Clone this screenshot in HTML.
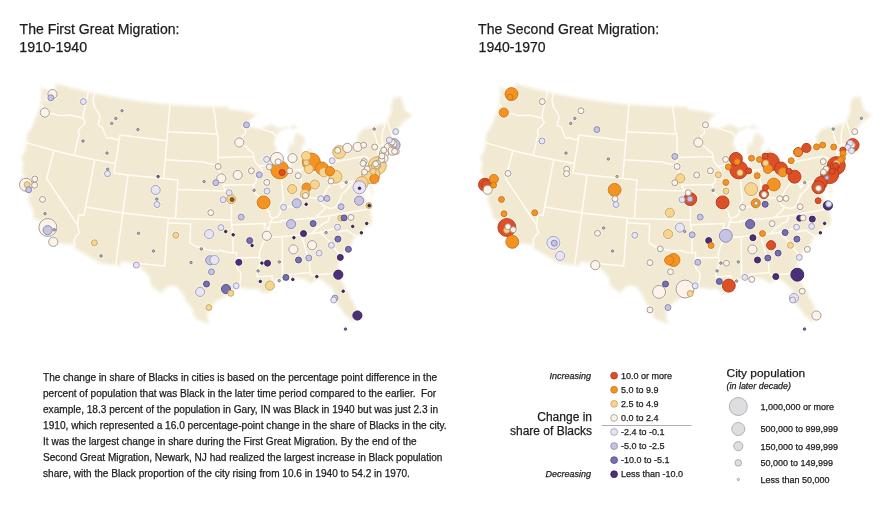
<!DOCTYPE html>
<html><head><meta charset="utf-8"><style>
html,body{margin:0;padding:0;background:#fff;}
body{width:887px;height:512px;overflow:hidden;position:relative;}
svg{position:absolute;left:0;top:0;filter:blur(0.4px);}
text{font-family:"Liberation Sans",sans-serif;fill:#1c1c1c;}
.t{stroke:#1c1c1c;stroke-width:0.25px;}
</style></head><body>
<svg width="887" height="512" viewBox="0 0 887 512">
<defs><filter id="glow" x="-5%" y="-5%" width="110%" height="110%"><feGaussianBlur stdDeviation="1.7"/></filter></defs>
<g font-size="14.2" class="t">
<text x="19.6" y="33.8" textLength="159.8" lengthAdjust="spacingAndGlyphs">The First Great Migration:</text>
<text x="19.3" y="52.2">1910-1940</text>
<text x="478.1" y="33.8" textLength="181.0" lengthAdjust="spacingAndGlyphs">The Second Great Migration:</text>
<text x="478.6" y="52.2" textLength="67.0" lengthAdjust="spacingAndGlyphs">1940-1970</text>
</g>
<g transform="translate(0,0)">
<g transform="translate(0.5,0.8)">
<path d="M39.5,82.5 L43.4,85.7 L46.7,87.2 L50.7,88.6 L51.0,91.1 L48.4,94.8 L47.3,97.5 L50.0,96.5 L51.9,93.7 L53.6,90.9 L52.9,87.3 L54.1,83.2 L53.2,80.5 L70.1,85.1 L88.5,89.5 L107.2,93.4 L125.9,96.7 L144.7,99.4 L163.6,101.5 L182.6,103.0 L201.6,103.9 L212.8,104.2 L226.0,104.2 L225.9,100.6 L228.0,101.4 L229.0,105.6 L229.5,107.0 L234.6,107.4 L239.7,108.2 L242.3,107.4 L244.2,109.0 L248.8,109.7 L254.0,111.8 L259.1,111.5 L262.1,112.3 L268.7,109.9 L278.5,111.9 L292.4,119.0 L295.8,123.4 L301.4,127.5 L305.4,127.9 L311.3,135.8 L314.5,148.9 L314.5,154.7 L314.2,158.6 L311.7,161.4 L310.9,164.4 L315.0,166.8 L322.4,164.2 L330.8,159.0 L335.3,155.8 L338.7,151.7 L337.2,148.6 L340.3,144.6 L350.4,142.7 L353.9,139.0 L354.0,136.1 L356.5,133.1 L359.4,129.0 L362.6,126.3 L371.8,124.2 L383.9,121.1 L385.9,117.6 L387.2,115.3 L389.2,111.3 L388.9,107.9 L389.3,102.9 L390.4,99.6 L392.2,94.5 L394.9,95.3 L397.9,93.9 L402.0,95.2 L405.3,105.6 L406.0,108.4 L410.5,111.5 L413.8,114.2 L412.2,117.0 L408.1,119.7 L405.1,121.6 L402.9,123.8 L401.0,126.8 L397.4,129.3 L395.6,131.8 L394.7,135.1 L393.9,137.8 L393.7,139.8 L395.7,141.3 L394.0,143.2 L394.0,145.2 L396.7,146.5 L397.9,148.1 L399.0,149.3 L401.4,148.9 L402.1,147.5 L400.0,146.0 L402.0,146.5 L402.7,149.0 L402.6,150.3 L398.1,151.6 L395.8,152.5 L394.5,153.2 L393.2,152.4 L392.9,154.0 L390.7,155.5 L387.4,156.9 L383.3,158.1 L380.8,160.0 L378.8,162.0 L377.9,163.5 L376.9,166.2 L375.7,167.6 L377.5,167.7 L378.1,171.0 L378.4,174.4 L377.4,178.1 L375.5,181.5 L374.1,183.5 L373.6,181.5 L371.5,180.4 L368.7,179.6 L370.3,181.7 L371.5,183.9 L373.5,185.1 L374.4,188.2 L374.0,191.7 L373.3,193.9 L372.2,197.6 L370.4,202.2 L369.4,198.7 L369.7,194.7 L367.8,191.1 L365.8,188.6 L365.0,184.8 L365.2,180.8 L364.6,179.5 L362.9,182.3 L363.2,185.2 L363.6,189.0 L365.5,192.6 L366.8,195.3 L367.0,198.2 L367.0,201.6 L368.2,203.8 L370.6,204.0 L372.3,207.4 L374.1,210.5 L376.3,213.9 L377.5,219.1 L375.0,221.1 L370.5,226.0 L366.7,227.2 L363.1,230.9 L361.8,234.6 L361.3,236.1 L357.4,236.4 L354.6,238.9 L353.3,242.5 L351.9,246.2 L348.4,249.2 L344.8,252.3 L341.9,256.6 L340.1,260.8 L339.6,265.7 L339.2,270.6 L340.2,274.3 L342.3,279.8 L345.1,284.2 L347.3,287.7 L349.9,290.7 L350.6,294.9 L353.5,299.2 L355.9,303.6 L357.1,308.2 L357.5,313.0 L357.1,315.9 L356.3,318.9 L355.7,320.9 L352.0,322.3 L349.7,321.9 L347.8,318.4 L344.0,316.6 L342.3,313.5 L340.0,310.0 L337.3,306.5 L334.3,303.2 L332.5,300.0 L331.5,295.9 L331.7,291.0 L330.5,288.3 L327.7,286.8 L324.3,283.4 L320.2,280.5 L317.6,279.6 L315.3,281.1 L311.5,284.0 L308.6,284.3 L306.2,281.7 L301.9,279.8 L297.6,278.8 L292.4,279.7 L289.6,281.0 L286.3,281.2 L284.9,279.9 L281.3,280.7 L276.4,280.8 L274.4,281.7 L272.4,283.7 L274.9,284.0 L275.5,285.9 L274.1,289.4 L276.7,291.1 L277.6,292.9 L276.5,294.0 L273.4,292.3 L271.3,291.4 L269.3,293.0 L265.6,294.2 L262.2,293.9 L259.6,292.1 L257.0,289.8 L252.1,290.1 L247.1,289.8 L242.9,288.5 L238.3,289.0 L234.6,290.6 L230.9,292.5 L228.0,295.4 L223.9,298.3 L220.5,299.7 L216.3,302.1 L212.5,305.4 L209.9,308.2 L208.6,312.9 L208.9,317.7 L210.1,322.4 L210.5,324.8 L207.9,325.3 L204.9,323.8 L201.5,322.3 L196.4,320.3 L193.4,318.3 L191.0,314.4 L190.7,309.6 L187.9,305.7 L184.3,301.8 L182.8,297.9 L180.5,293.9 L178.9,291.5 L175.8,287.5 L171.7,286.8 L167.5,287.4 L164.8,290.1 L162.1,293.7 L160.4,293.9 L157.2,291.9 L155.2,290.3 L150.9,287.6 L148.7,284.0 L147.9,279.1 L147.0,276.2 L142.9,271.9 L139.1,268.6 L135.7,264.6 L122.2,263.0 L121.6,267.3 L98.6,263.9 L71.0,247.5 L72.1,245.6 L52.9,243.4 L52.7,241.7 L52.5,238.7 L50.4,233.7 L48.4,231.8 L45.7,229.7 L45.6,227.0 L43.3,226.3 L40.4,224.9 L38.1,221.3 L33.7,219.5 L31.6,219.2 L31.4,214.6 L31.2,212.1 L30.7,209.5 L28.5,205.9 L27.8,202.7 L25.6,199.1 L26.1,196.2 L27.7,194.7 L26.3,192.6 L24.4,189.7 L24.4,186.7 L25.0,184.1 L23.5,181.9 L22.2,181.1 L22.6,178.2 L20.9,173.6 L19.6,170.7 L20.4,166.4 L21.1,162.7 L20.2,159.4 L19.1,155.6 L21.2,153.1 L23.2,149.2 L24.1,143.9 L24.8,141.6 L24.5,137.5 L24.9,133.2 L26.9,130.2 L29.7,126.1 L32.0,120.8 L33.7,116.3 L36.3,110.1 L37.8,105.6 L37.9,103.1 L38.7,98.9 L39.2,95.0 L39.3,91.1 L38.7,87.0 L39.5,82.5Z M377.2,166.5 L378.5,164.0 L380.6,162.0 L384.0,160.9 L387.2,158.9 L388.4,157.9 L388.9,160.0 L391.0,158.4 L389.0,160.4 L386.5,162.1 L382.7,164.5 L380.0,165.6 L377.6,166.5Z" fill="#F2E9D2"/>
<path d="M285.3,170.2 L299.4,168.7 L309.1,168.1 L311.1,164.9 L311.7,161.4 L314.2,158.6 L314.5,154.7 L313.3,140.3 L301.4,127.5 L295.8,123.4 L292.4,119.0 L278.5,111.9 L268.7,109.9 L262.7,117.0 L257.4,125.9 L263.6,129.3 L269.0,130.8 L273.1,132.4 L275.4,135.6 L277.0,138.8 L280.1,135.2 L283.2,139.2 L284.5,167.9Z" fill="#F3EBD8"/>
<path d="M295.8,123.4 L293.0,121.4 L289.0,124.7 L284.9,123.2 L281.8,125.7 L277.1,124.9 L274.3,122.3 L271.6,122.0 L274.0,119.0 L273.4,116.5 L270.1,119.3 L268.3,121.8 L264.5,124.0 L258.7,125.8 L254.7,125.6 L253.3,123.3 L249.5,125.2 L246.2,125.3 L249.3,122.5 L254.3,117.5 L259.9,113.9 L263.0,112.2 L264.7,108.3 L270.1,104.1 L275.1,102.3 L281.7,104.9 L291.3,109.6 L293.7,114.1 L294.9,118.7 L295.8,123.4Z M295.6,129.7 L291.6,129.7 L288.2,129.1 L284.3,130.4 L281.7,131.2 L280.1,132.3 L276.9,136.9 L276.4,139.8 L274.8,144.3 L277.3,141.7 L279.6,137.6 L279.2,140.5 L278.2,144.4 L277.4,150.3 L276.4,155.2 L276.7,159.0 L277.8,163.7 L279.3,168.4 L280.2,170.8 L282.1,171.8 L285.5,170.7 L287.3,167.2 L288.6,162.7 L288.5,157.9 L286.3,153.3 L285.4,148.6 L286.8,145.1 L287.6,139.7 L289.8,138.0 L291.1,140.3 L291.8,136.4 L293.7,133.3 L294.1,130.8 L295.6,129.7Z M295.6,129.7 L300.7,127.8 L303.2,126.3 L309.6,124.5 L316.3,124.4 L321.2,125.6 L324.3,128.0 L327.9,133.2 L328.0,138.0 L320.2,136.4 L316.9,132.6 L318.0,139.6 L317.9,144.5 L319.0,151.1 L314.5,154.7 L312.8,149.1 L311.2,145.0 L307.2,146.0 L303.6,150.4 L302.8,147.1 L306.5,143.2 L305.9,136.5 L302.4,133.2 L297.7,130.4 L295.6,129.7Z M309.0,167.8 L312.4,169.1 L314.7,169.7 L318.2,169.7 L321.6,168.2 L324.7,165.3 L328.6,162.7 L331.8,160.3 L336.0,156.1 L338.8,151.9 L335.5,152.8 L330.7,154.1 L328.3,156.5 L322.8,157.3 L319.1,160.8 L315.2,163.8 L311.1,164.9 L309.0,167.8Z M337.2,148.6 L340.8,147.4 L346.9,146.1 L351.4,143.9 L354.0,142.9 L355.4,139.7 L354.2,137.0 L352.0,136.5 L349.0,139.0 L345.1,140.3 L339.9,142.3 L334.1,145.2 L332.0,149.0 L337.2,148.6Z M313.7,158.2 L312.1,159.4 L312.1,161.3 L314.5,161.0 L313.7,158.2Z M372.7,208.8 L374.3,211.4 L375.8,214.0 L377.3,219.1 L375.4,221.0 L373.8,222.8 L373.1,221.5 L373.3,218.5 L373.0,215.6 L372.1,213.3 L372.7,212.2 L372.2,209.9Z M367.9,204.4 L370.4,202.4 L369.8,197.6 L368.8,193.9 L366.9,190.3 L365.2,185.8 L364.4,182.0 L364.9,179.4 L362.7,181.4 L362.8,185.3 L363.2,189.1 L364.7,192.7 L366.2,196.4 L367.0,200.1 L366.9,203.1Z M373.6,184.9 L370.8,180.6 L368.4,178.2 L369.2,180.0 L373.3,181.5 L374.4,183.4Z" fill="#fff" stroke="#fff" stroke-width="1.2"/>
<path d="M39.5,82.5 L43.4,85.7 L46.7,87.2 L50.7,88.6 L51.0,91.1 L48.4,94.8 L47.3,97.5 L50.0,96.5 L51.9,93.7 L53.6,90.9 L52.9,87.3 L54.1,83.2 L53.2,80.5 L70.1,85.1 L88.5,89.5 L107.2,93.4 L125.9,96.7 L144.7,99.4 L163.6,101.5 L182.6,103.0 L201.6,103.9 L212.8,104.2 L226.0,104.2 L225.9,100.6 L228.0,101.4 L229.0,105.6 L229.5,107.0 L234.6,107.4 L239.7,108.2 L242.3,107.4 L244.2,109.0 L248.8,109.7 L254.0,111.8 L259.1,111.5 L262.1,112.3 L268.7,109.9 L278.5,111.9 L292.4,119.0 L295.8,123.4 L301.4,127.5 L305.4,127.9 L311.3,135.8 L314.5,148.9 L314.5,154.7 L314.2,158.6 L311.7,161.4 L310.9,164.4 L315.0,166.8 L322.4,164.2 L330.8,159.0 L335.3,155.8 L338.7,151.7 L337.2,148.6 L340.3,144.6 L350.4,142.7 L353.9,139.0 L354.0,136.1 L356.5,133.1 L359.4,129.0 L362.6,126.3 L371.8,124.2 L383.9,121.1 L385.9,117.6 L387.2,115.3 L389.2,111.3 L388.9,107.9 L389.3,102.9 L390.4,99.6 L392.2,94.5 L394.9,95.3 L397.9,93.9 L402.0,95.2 L405.3,105.6 L406.0,108.4 L410.5,111.5 L413.8,114.2 L412.2,117.0 L408.1,119.7 L405.1,121.6 L402.9,123.8 L401.0,126.8 L397.4,129.3 L395.6,131.8 L394.7,135.1 L393.9,137.8 L393.7,139.8 L395.7,141.3 L394.0,143.2 L394.0,145.2 L396.7,146.5 L397.9,148.1 L399.0,149.3 L401.4,148.9 L402.1,147.5 L400.0,146.0 L402.0,146.5 L402.7,149.0 L402.6,150.3 L398.1,151.6 L395.8,152.5 L394.5,153.2 L393.2,152.4 L392.9,154.0 L390.7,155.5 L387.4,156.9 L383.3,158.1 L380.8,160.0 L378.8,162.0 L377.9,163.5 L376.9,166.2 L375.7,167.6 L377.5,167.7 L378.1,171.0 L378.4,174.4 L377.4,178.1 L375.5,181.5 L374.1,183.5 L373.6,181.5 L371.5,180.4 L368.7,179.6 L370.3,181.7 L371.5,183.9 L373.5,185.1 L374.4,188.2 L374.0,191.7 L373.3,193.9 L372.2,197.6 L370.4,202.2 L369.4,198.7 L369.7,194.7 L367.8,191.1 L365.8,188.6 L365.0,184.8 L365.2,180.8 L364.6,179.5 L362.9,182.3 L363.2,185.2 L363.6,189.0 L365.5,192.6 L366.8,195.3 L367.0,198.2 L367.0,201.6 L368.2,203.8 L370.6,204.0 L372.3,207.4 L374.1,210.5 L376.3,213.9 L377.5,219.1 L375.0,221.1 L370.5,226.0 L366.7,227.2 L363.1,230.9 L361.8,234.6 L361.3,236.1 L357.4,236.4 L354.6,238.9 L353.3,242.5 L351.9,246.2 L348.4,249.2 L344.8,252.3 L341.9,256.6 L340.1,260.8 L339.6,265.7 L339.2,270.6 L340.2,274.3 L342.3,279.8 L345.1,284.2 L347.3,287.7 L349.9,290.7 L350.6,294.9 L353.5,299.2 L355.9,303.6 L357.1,308.2 L357.5,313.0 L357.1,315.9 L356.3,318.9 L355.7,320.9 L352.0,322.3 L349.7,321.9 L347.8,318.4 L344.0,316.6 L342.3,313.5 L340.0,310.0 L337.3,306.5 L334.3,303.2 L332.5,300.0 L331.5,295.9 L331.7,291.0 L330.5,288.3 L327.7,286.8 L324.3,283.4 L320.2,280.5 L317.6,279.6 L315.3,281.1 L311.5,284.0 L308.6,284.3 L306.2,281.7 L301.9,279.8 L297.6,278.8 L292.4,279.7 L289.6,281.0 L286.3,281.2 L284.9,279.9 L281.3,280.7 L276.4,280.8 L274.4,281.7 L272.4,283.7 L274.9,284.0 L275.5,285.9 L274.1,289.4 L276.7,291.1 L277.6,292.9 L276.5,294.0 L273.4,292.3 L271.3,291.4 L269.3,293.0 L265.6,294.2 L262.2,293.9 L259.6,292.1 L257.0,289.8 L252.1,290.1 L247.1,289.8 L242.9,288.5 L238.3,289.0 L234.6,290.6 L230.9,292.5 L228.0,295.4 L223.9,298.3 L220.5,299.7 L216.3,302.1 L212.5,305.4 L209.9,308.2 L208.6,312.9 L208.9,317.7 L210.1,322.4 L210.5,324.8 L207.9,325.3 L204.9,323.8 L201.5,322.3 L196.4,320.3 L193.4,318.3 L191.0,314.4 L190.7,309.6 L187.9,305.7 L184.3,301.8 L182.8,297.9 L180.5,293.9 L178.9,291.5 L175.8,287.5 L171.7,286.8 L167.5,287.4 L164.8,290.1 L162.1,293.7 L160.4,293.9 L157.2,291.9 L155.2,290.3 L150.9,287.6 L148.7,284.0 L147.9,279.1 L147.0,276.2 L142.9,271.9 L139.1,268.6 L135.7,264.6 L122.2,263.0 L121.6,267.3 L98.6,263.9 L71.0,247.5 L72.1,245.6 L52.9,243.4 L52.7,241.7 L52.5,238.7 L50.4,233.7 L48.4,231.8 L45.7,229.7 L45.6,227.0 L43.3,226.3 L40.4,224.9 L38.1,221.3 L33.7,219.5 L31.6,219.2 L31.4,214.6 L31.2,212.1 L30.7,209.5 L28.5,205.9 L27.8,202.7 L25.6,199.1 L26.1,196.2 L27.7,194.7 L26.3,192.6 L24.4,189.7 L24.4,186.7 L25.0,184.1 L23.5,181.9 L22.2,181.1 L22.6,178.2 L20.9,173.6 L19.6,170.7 L20.4,166.4 L21.1,162.7 L20.2,159.4 L19.1,155.6 L21.2,153.1 L23.2,149.2 L24.1,143.9 L24.8,141.6 L24.5,137.5 L24.9,133.2 L26.9,130.2 L29.7,126.1 L32.0,120.8 L33.7,116.3 L36.3,110.1 L37.8,105.6 L37.9,103.1 L38.7,98.9 L39.2,95.0 L39.3,91.1 L38.7,87.0 L39.5,82.5Z M377.2,166.5 L378.5,164.0 L380.6,162.0 L384.0,160.9 L387.2,158.9 L388.4,157.9 L388.9,160.0 L391.0,158.4 L389.0,160.4 L386.5,162.1 L382.7,164.5 L380.0,165.6 L377.6,166.5Z M295.8,123.4 L293.0,121.4 L289.0,124.7 L284.9,123.2 L281.8,125.7 L277.1,124.9 L274.3,122.3 L271.6,122.0 L274.0,119.0 L273.4,116.5 L270.1,119.3 L268.3,121.8 L264.5,124.0 L258.7,125.8 L254.7,125.6 L253.3,123.3 L249.5,125.2 L246.2,125.3 L249.3,122.5 L254.3,117.5 L259.9,113.9 L263.0,112.2 L264.7,108.3 L270.1,104.1 L275.1,102.3 L281.7,104.9 L291.3,109.6 L293.7,114.1 L294.9,118.7 L295.8,123.4Z M295.6,129.7 L291.6,129.7 L288.2,129.1 L284.3,130.4 L281.7,131.2 L280.1,132.3 L276.9,136.9 L276.4,139.8 L274.8,144.3 L277.3,141.7 L279.6,137.6 L279.2,140.5 L278.2,144.4 L277.4,150.3 L276.4,155.2 L276.7,159.0 L277.8,163.7 L279.3,168.4 L280.2,170.8 L282.1,171.8 L285.5,170.7 L287.3,167.2 L288.6,162.7 L288.5,157.9 L286.3,153.3 L285.4,148.6 L286.8,145.1 L287.6,139.7 L289.8,138.0 L291.1,140.3 L291.8,136.4 L293.7,133.3 L294.1,130.8 L295.6,129.7Z M295.6,129.7 L300.7,127.8 L303.2,126.3 L309.6,124.5 L316.3,124.4 L321.2,125.6 L324.3,128.0 L327.9,133.2 L328.0,138.0 L320.2,136.4 L316.9,132.6 L318.0,139.6 L317.9,144.5 L319.0,151.1 L314.5,154.7 L312.8,149.1 L311.2,145.0 L307.2,146.0 L303.6,150.4 L302.8,147.1 L306.5,143.2 L305.9,136.5 L302.4,133.2 L297.7,130.4 L295.6,129.7Z M309.0,167.8 L312.4,169.1 L314.7,169.7 L318.2,169.7 L321.6,168.2 L324.7,165.3 L328.6,162.7 L331.8,160.3 L336.0,156.1 L338.8,151.9 L335.5,152.8 L330.7,154.1 L328.3,156.5 L322.8,157.3 L319.1,160.8 L315.2,163.8 L311.1,164.9 L309.0,167.8Z M337.2,148.6 L340.8,147.4 L346.9,146.1 L351.4,143.9 L354.0,142.9 L355.4,139.7 L354.2,137.0 L352.0,136.5 L349.0,139.0 L345.1,140.3 L339.9,142.3 L334.1,145.2 L332.0,149.0 L337.2,148.6Z M313.7,158.2 L312.1,159.4 L312.1,161.3 L314.5,161.0 L313.7,158.2Z M372.7,208.8 L374.3,211.4 L375.8,214.0 L377.3,219.1 L375.4,221.0 L373.8,222.8 L373.1,221.5 L373.3,218.5 L373.0,215.6 L372.1,213.3 L372.7,212.2 L372.2,209.9Z M367.9,204.4 L370.4,202.4 L369.8,197.6 L368.8,193.9 L366.9,190.3 L365.2,185.8 L364.4,182.0 L364.9,179.4 L362.7,181.4 L362.8,185.3 L363.2,189.1 L364.7,192.7 L366.2,196.4 L367.0,200.1 L366.9,203.1Z M373.6,184.9 L370.8,180.6 L368.4,178.2 L369.2,180.0 L373.3,181.5 L374.4,183.4Z" fill="none" stroke="#fff" stroke-width="4" filter="url(#glow)" opacity="0.9"/>
<path d="M38.1,103.2 L42.2,105.4 L44.1,110.9 L47.0,112.7 L54.5,113.3 L58.2,114.8 L65.2,114.7 L69.5,114.3 L82.8,117.4 M82.8,117.4 L82.9,113.3 L88.3,89.5 M82.8,117.4 L84.7,121.7 L82.8,124.2 L78.8,128.2 L77.7,131.4 L79.0,133.7 L77.5,137.8 L73.7,154.6 M24.8,141.6 L53.4,149.7 L73.7,154.6 L94.3,158.9 L115.0,162.6 M53.4,149.7 L46.1,177.7 L77.1,224.2 M77.1,224.2 L77.3,226.2 L78.2,229.9 L79.3,232.0 L76.0,234.8 L73.5,239.2 L74.3,243.3 L72.1,245.6 M77.1,224.2 L77.7,219.5 L78.1,214.6 L79.4,213.9 L83.5,214.7 L94.3,158.9 M85.1,206.2 L122.3,212.3 L167.8,217.2 L175.0,217.7 L231.0,219.1 M115.0,162.6 L113.5,172.1 L127.6,174.2 L114.9,266.3 M94.4,90.8 L92.4,100.1 L93.7,103.3 L93.6,105.6 L95.6,108.5 L97.4,111.3 L99.1,114.5 L99.4,118.0 L97.7,123.5 L98.7,125.1 L101.8,126.7 L103.6,131.4 L105.8,136.2 L107.0,137.4 L110.5,137.0 L115.7,138.9 L117.6,138.2 L118.8,138.9 M118.8,138.9 L115.0,162.6 M118.8,138.9 L119.6,134.2 L166.4,139.9 M169.6,102.1 L163.1,178.1 M127.6,174.2 L177.4,179.2 L176.8,188.8 M176.8,188.8 L175.0,217.7 M167.1,131.0 L216.9,133.2 M164.8,159.0 L203.2,161.1 L208.0,162.7 L213.6,163.7 L217.4,166.2 M176.8,188.8 L225.6,190.2 M217.4,166.2 L219.2,171.0 L220.6,175.8 L221.6,180.6 L222.2,184.5 L225.6,190.2 L228.2,194.5 L230.8,198.8 L231.0,219.1 M212.8,104.2 L213.2,108.9 L215.1,118.4 L215.3,126.9 L216.9,133.2 L217.6,139.4 L217.5,156.6 L217.1,161.4 L217.4,166.2 M217.5,156.6 L253.5,155.8 M246.2,125.3 L245.0,128.4 L245.1,132.2 L241.6,135.2 L242.4,139.0 L242.2,144.3 L245.7,146.0 L248.5,149.3 L252.8,152.4 L253.5,155.8 M253.5,155.8 L254.2,160.5 L258.0,165.1 L261.5,168.8 L261.5,172.2 L258.9,175.2 L255.8,176.8 L255.6,181.6 L253.4,183.7 M222.2,184.5 L253.4,183.7 M253.4,183.7 L253.1,187.5 L254.7,192.3 L258.6,195.9 L263.2,199.5 L262.7,203.4 L265.6,208.1 L269.2,211.7 L269.4,215.6 L272.1,217.3 M167.8,217.2 L167.4,222.0 L190.2,223.3 L189.4,242.0 M189.4,242.0 L195.5,245.7 L200.9,246.8 L207.2,249.3 L215.8,250.4 L220.5,249.5 L226.8,251.4 L232.4,252.3 L236.0,251.3 M232.5,251.4 L232.6,234.5 L231.0,223.9 L231.0,219.1 M167.4,222.0 L164.2,265.1 L135.2,262.4 L135.7,264.6 M236.0,251.3 L236.1,257.3 L236.3,267.1 L240.0,271.8 L240.5,276.6 L239.4,281.4 L239.5,285.2 L238.3,289.0 M236.1,257.3 L259.1,256.5 M268.7,227.2 L266.3,232.2 L265.5,237.0 L262.6,242.0 L260.6,247.0 L258.8,251.9 L259.1,256.5 L260.1,261.4 L258.4,266.3 L257.0,271.2 L256.2,276.0 M256.2,276.0 L271.6,275.1 L271.7,279.0 L273.6,282.7 M231.0,223.9 L265.0,222.6 L263.6,227.5 L268.7,227.2 M272.1,217.3 L269.8,221.3 L268.7,227.2 M265.5,237.0 L280.9,235.9 L301.0,234.0 L310.8,232.9 L320.2,231.7 M280.9,235.9 L281.8,236.8 L282.0,274.4 L282.9,280.1 M301.0,234.0 L306.6,254.2 L309.0,259.2 L309.1,266.9 L310.0,271.7 M310.0,271.7 L288.9,273.8 L290.5,277.5 L290.4,280.4 M310.0,271.7 L311.5,274.4 L333.2,272.5 L334.7,274.2 L336.3,270.6 L339.2,270.6 M320.2,231.7 L323.1,235.2 L328.5,240.2 L332.5,245.5 L335.4,248.9 L338.9,253.2 L342.0,257.1 M320.0,229.8 L320.2,231.7 L325.5,230.0 L335.6,227.4 L337.0,228.7 L338.2,230.9 L346.6,229.5 L357.1,236.9 M328.8,214.9 L328.7,217.8 L327.3,220.9 L322.9,222.5 L316.5,227.3 L310.8,232.9 M313.8,217.0 L328.8,214.9 L372.3,207.4 M269.8,221.3 L280.9,221.5 L280.8,220.0 L296.3,218.7 L313.8,217.0 M313.8,217.0 L317.8,214.0 L320.6,211.7 L323.2,208.9 L325.3,206.2 L321.8,204.2 L319.7,200.6 L319.5,198.7 M325.3,206.2 L329.1,207.5 L333.6,207.3 L336.3,205.4 L338.0,201.7 L340.5,196.4 L340.8,193.9 L344.4,190.8 L348.2,187.2 L349.1,184.1 L353.2,184.2 M272.1,217.3 L276.7,216.0 L279.8,212.4 L279.8,209.0 L282.4,207.8 L286.1,207.5 L290.3,205.1 L292.8,206.8 L296.4,202.7 L298.6,198.4 L302.9,197.2 L302.4,194.1 L308.0,196.3 L311.0,196.9 L316.3,197.2 L319.5,198.7 L322.0,195.4 L324.5,192.1 L326.4,187.9 L329.3,185.0 L330.6,181.4 L331.2,175.1 M280.3,170.6 L282.4,193.8 L283.1,199.0 L280.2,204.1 L279.8,209.0 M299.5,169.3 L302.4,194.1 M282.0,170.5 L299.4,168.7 L309.1,168.1 M258.0,165.1 L277.8,163.7 M257.4,125.9 L263.6,129.3 L269.0,130.8 L273.1,132.4 L275.4,135.6 L277.0,138.8 M329.1,162.4 L331.2,175.1 L332.6,183.8 L340.1,182.6 L341.0,187.5 M341.0,187.5 L345.2,182.8 L349.3,181.1 L352.2,182.5 L353.2,184.2 M353.2,184.2 L355.4,185.8 L359.0,187.0 L358.3,191.1 L360.6,193.1 L365.9,194.5 M340.1,182.6 L366.5,177.4 L369.1,189.4 L374.4,188.2 M366.5,177.4 L367.5,176.0 L368.9,176.1 M334.4,161.5 L334.4,161.3 L364.8,155.3 L367.0,156.8 L370.7,160.4 M370.7,160.4 L368.7,164.3 L368.8,168.2 L372.5,171.4 L371.8,173.5 L370.4,175.3 L368.4,178.2 M370.7,160.4 L377.0,162.4 L376.9,166.2 M371.8,124.2 L372.9,128.8 L375.3,137.1 L377.4,145.0 M377.4,145.0 L377.4,151.9 L379.3,159.9 L378.8,162.0 M383.9,121.1 L384.5,124.9 L382.2,129.5 L381.5,136.6 L382.3,144.0 M377.4,145.0 L382.3,144.0 L390.8,142.1 L393.6,139.6 M385.9,117.6 L388.9,126.7 L391.2,134.0 L393.9,137.8 M377.4,151.9 L389.1,149.3 L392.0,148.5 L395.0,152.9 M389.1,149.3 L390.7,155.5" fill="none" stroke="#FFFCF3" stroke-width="1.5" stroke-linejoin="round"/>
</g>
<g transform="translate(0.3,0.3)">
<g fill="#fff" opacity="0.55"><circle cx="47.6" cy="227.2" r="10.10"/><circle cx="279.5" cy="169.6" r="10.10"/><circle cx="311.0" cy="161.7" r="10.10"/><circle cx="377.0" cy="165.3" r="10.10"/><circle cx="370.4" cy="174.3" r="10.10"/><circle cx="25.7" cy="184.4" r="7.60"/><circle cx="276.6" cy="158.6" r="7.60"/><circle cx="263.3" cy="202.1" r="7.60"/><circle cx="321.7" cy="168.2" r="7.60"/><circle cx="335.2" cy="176.4" r="7.60"/><circle cx="338.9" cy="151.8" r="7.60"/><circle cx="393.3" cy="144.8" r="7.60"/><circle cx="361.4" cy="182.7" r="7.60"/><circle cx="359.1" cy="187.0" r="7.60"/><circle cx="52.2" cy="93.8" r="5.70"/><circle cx="44.5" cy="112.3" r="5.70"/><circle cx="47.4" cy="229.9" r="5.70"/><circle cx="53.0" cy="241.5" r="5.70"/><circle cx="155.3" cy="189.6" r="5.70"/><circle cx="221.0" cy="178.1" r="5.70"/><circle cx="239.0" cy="142.2" r="5.70"/><circle cx="237.4" cy="174.7" r="5.70"/><circle cx="231.0" cy="198.8" r="5.70"/><circle cx="208.8" cy="233.8" r="5.70"/><circle cx="266.5" cy="235.5" r="5.70"/><circle cx="292.2" cy="157.9" r="5.70"/><circle cx="305.8" cy="155.8" r="5.70"/><circle cx="308.5" cy="168.6" r="5.70"/><circle cx="323.5" cy="172.0" r="5.70"/><circle cx="329.6" cy="170.9" r="5.70"/><circle cx="347.1" cy="147.6" r="5.70"/><circle cx="357.3" cy="146.6" r="5.70"/><circle cx="291.9" cy="188.8" r="5.70"/><circle cx="306.2" cy="187.2" r="5.70"/><circle cx="304.6" cy="193.8" r="5.70"/><circle cx="314.5" cy="184.2" r="5.70"/><circle cx="296.4" cy="203.0" r="5.70"/><circle cx="388.5" cy="147.1" r="5.70"/><circle cx="392.3" cy="150.4" r="5.70"/><circle cx="383.7" cy="153.2" r="5.70"/><circle cx="383.1" cy="157.8" r="5.70"/><circle cx="375.7" cy="165.3" r="5.70"/><circle cx="374.1" cy="178.5" r="5.70"/><circle cx="358.8" cy="200.4" r="5.70"/><circle cx="290.8" cy="223.8" r="5.70"/><circle cx="293.1" cy="249.1" r="5.70"/><circle cx="311.8" cy="244.9" r="5.70"/><circle cx="269.5" cy="285.3" r="5.70"/><circle cx="338.0" cy="274.4" r="5.70"/><circle cx="357.1" cy="315.2" r="5.70"/><circle cx="209.9" cy="260.0" r="5.70"/><circle cx="214.2" cy="259.7" r="5.70"/><circle cx="225.7" cy="288.7" r="5.70"/><circle cx="199.8" cy="291.6" r="5.70"/><circle cx="50.5" cy="97.5" r="4.10"/><circle cx="83.0" cy="101.3" r="4.10"/><circle cx="26.9" cy="184.4" r="4.10"/><circle cx="28.4" cy="189.5" r="4.10"/><circle cx="34.5" cy="178.7" r="4.10"/><circle cx="34.3" cy="184.9" r="4.10"/><circle cx="42.2" cy="199.1" r="4.10"/><circle cx="107.2" cy="173.4" r="4.10"/><circle cx="94.1" cy="242.5" r="4.10"/><circle cx="156.7" cy="204.2" r="4.10"/><circle cx="217.8" cy="166.2" r="4.10"/><circle cx="215.5" cy="182.4" r="4.10"/><circle cx="246.2" cy="124.6" r="4.10"/><circle cx="251.1" cy="170.5" r="4.10"/><circle cx="259.0" cy="174.5" r="4.10"/><circle cx="266.5" cy="182.1" r="4.10"/><circle cx="266.7" cy="190.8" r="4.10"/><circle cx="266.3" cy="159.1" r="4.10"/><circle cx="277.8" cy="161.5" r="4.10"/><circle cx="269.0" cy="166.6" r="4.10"/><circle cx="281.8" cy="172.2" r="4.10"/><circle cx="228.9" cy="192.4" r="4.10"/><circle cx="222.8" cy="199.4" r="4.10"/><circle cx="240.9" cy="216.8" r="4.10"/><circle cx="210.5" cy="212.4" r="4.10"/><circle cx="283.3" cy="207.0" r="4.10"/><circle cx="220.6" cy="227.3" r="4.10"/><circle cx="249.4" cy="240.3" r="4.10"/><circle cx="289.4" cy="170.6" r="4.10"/><circle cx="297.9" cy="175.4" r="4.10"/><circle cx="305.9" cy="162.5" r="4.10"/><circle cx="331.9" cy="160.4" r="4.10"/><circle cx="337.4" cy="150.1" r="4.10"/><circle cx="363.4" cy="144.8" r="4.10"/><circle cx="374.4" cy="146.7" r="4.10"/><circle cx="395.4" cy="131.3" r="4.10"/><circle cx="330.7" cy="180.8" r="4.10"/><circle cx="305.2" cy="195.2" r="4.10"/><circle cx="320.5" cy="198.4" r="4.10"/><circle cx="326.7" cy="198.1" r="4.10"/><circle cx="340.8" cy="206.4" r="4.10"/><circle cx="392.9" cy="144.8" r="4.10"/><circle cx="393.0" cy="144.6" r="4.10"/><circle cx="393.8" cy="143.6" r="4.10"/><circle cx="390.9" cy="142.8" r="4.10"/><circle cx="391.8" cy="141.7" r="4.10"/><circle cx="389.0" cy="139.7" r="4.10"/><circle cx="383.5" cy="149.9" r="4.10"/><circle cx="381.4" cy="159.4" r="4.10"/><circle cx="381.6" cy="155.7" r="4.10"/><circle cx="396.0" cy="151.2" r="4.10"/><circle cx="394.3" cy="151.1" r="4.10"/><circle cx="363.9" cy="161.3" r="4.10"/><circle cx="362.7" cy="163.1" r="4.10"/><circle cx="366.9" cy="168.6" r="4.10"/><circle cx="364.2" cy="171.8" r="4.10"/><circle cx="372.7" cy="171.1" r="4.10"/><circle cx="377.2" cy="163.0" r="4.10"/><circle cx="376.4" cy="165.2" r="4.10"/><circle cx="375.3" cy="163.6" r="4.10"/><circle cx="368.6" cy="205.2" r="4.10"/><circle cx="340.4" cy="217.9" r="4.10"/><circle cx="343.8" cy="217.6" r="4.10"/><circle cx="350.7" cy="217.2" r="4.10"/><circle cx="337.2" cy="226.9" r="4.10"/><circle cx="337.6" cy="238.8" r="4.10"/><circle cx="331.1" cy="245.0" r="4.10"/><circle cx="348.1" cy="249.0" r="4.10"/><circle cx="318.8" cy="252.8" r="4.10"/><circle cx="340.0" cy="257.1" r="4.10"/><circle cx="312.8" cy="223.3" r="4.10"/><circle cx="303.2" cy="233.3" r="4.10"/><circle cx="308.5" cy="257.7" r="4.10"/><circle cx="298.2" cy="259.7" r="4.10"/><circle cx="267.2" cy="262.9" r="4.10"/><circle cx="285.6" cy="277.1" r="4.10"/><circle cx="334.7" cy="297.8" r="4.10"/><circle cx="333.4" cy="299.7" r="4.10"/><circle cx="175.5" cy="234.9" r="4.10"/><circle cx="136.0" cy="264.8" r="4.10"/><circle cx="211.2" cy="271.5" r="4.10"/><circle cx="206.2" cy="283.7" r="4.10"/><circle cx="230.5" cy="293.0" r="4.10"/><circle cx="238.5" cy="262.0" r="4.10"/><circle cx="235.9" cy="285.5" r="4.10"/><circle cx="208.6" cy="307.2" r="4.10"/><circle cx="231.8" cy="199.3" r="3.10"/><circle cx="368.9" cy="205.3" r="2.50"/><circle cx="121.7" cy="110.4" r="2.35"/><circle cx="115.5" cy="118.1" r="2.35"/><circle cx="111.4" cy="123.1" r="2.35"/><circle cx="137.6" cy="129.3" r="2.35"/><circle cx="106.7" cy="152.8" r="2.35"/><circle cx="82.7" cy="140.7" r="2.35"/><circle cx="107.4" cy="168.9" r="2.35"/><circle cx="44.7" cy="213.4" r="2.35"/><circle cx="54.0" cy="229.4" r="2.35"/><circle cx="100.8" cy="255.6" r="2.35"/><circle cx="157.8" cy="176.3" r="2.35"/><circle cx="156.5" cy="198.8" r="2.35"/><circle cx="203.8" cy="181.2" r="2.35"/><circle cx="253.8" cy="190.0" r="2.35"/><circle cx="225.4" cy="231.2" r="2.35"/><circle cx="232.9" cy="234.5" r="2.35"/><circle cx="251.8" cy="245.2" r="2.35"/><circle cx="373.9" cy="128.8" r="2.35"/><circle cx="305.9" cy="204.0" r="2.35"/><circle cx="345.9" cy="182.0" r="2.35"/><circle cx="359.2" cy="188.0" r="2.35"/><circle cx="366.4" cy="223.2" r="2.35"/><circle cx="352.4" cy="226.1" r="2.35"/><circle cx="325.8" cy="232.3" r="2.35"/><circle cx="361.1" cy="232.5" r="2.35"/><circle cx="293.6" cy="237.4" r="2.35"/><circle cx="261.6" cy="262.8" r="2.35"/><circle cx="279.0" cy="261.6" r="2.35"/><circle cx="257.8" cy="270.6" r="2.35"/><circle cx="260.0" cy="281.1" r="2.35"/><circle cx="278.9" cy="280.4" r="2.35"/><circle cx="292.5" cy="279.1" r="2.35"/><circle cx="316.5" cy="276.3" r="2.35"/><circle cx="342.9" cy="290.9" r="2.35"/><circle cx="345.2" cy="328.8" r="2.35"/><circle cx="153.2" cy="250.8" r="2.35"/><circle cx="201.0" cy="248.6" r="2.35"/><circle cx="190.7" cy="262.3" r="2.35"/><circle cx="138.2" cy="233.0" r="2.35"/></g>
<circle cx="47.6" cy="227.2" r="9.0" fill="#FCF4EA" stroke="#9E9282" stroke-width="0.9"/>
<circle cx="279.5" cy="169.6" r="9.0" fill="#F49322" stroke="#C9761A" stroke-width="0.9"/>
<circle cx="311.0" cy="161.7" r="9.0" fill="#F49322" stroke="#C9761A" stroke-width="0.9"/>
<circle cx="377.0" cy="165.3" r="9.0" fill="#F8D48E" stroke="#C4A262" stroke-width="0.9"/>
<circle cx="370.4" cy="174.3" r="9.0" fill="#F8D48E" stroke="#C4A262" stroke-width="0.9"/>
<circle cx="25.7" cy="184.4" r="6.5" fill="#FCF4EA" stroke="#9E9282" stroke-width="0.9"/>
<circle cx="276.6" cy="158.6" r="6.5" fill="#FCF4EA" stroke="#9E9282" stroke-width="0.9"/>
<circle cx="263.3" cy="202.1" r="6.5" fill="#F49322" stroke="#C9761A" stroke-width="0.9"/>
<circle cx="321.7" cy="168.2" r="6.5" fill="#F49322" stroke="#C9761A" stroke-width="0.9"/>
<circle cx="335.2" cy="176.4" r="6.5" fill="#F8D48E" stroke="#C4A262" stroke-width="0.9"/>
<circle cx="338.9" cy="151.8" r="6.5" fill="#F8D48E" stroke="#C4A262" stroke-width="0.9"/>
<circle cx="393.3" cy="144.8" r="6.5" fill="#C6C4E2" stroke="#8583AA" stroke-width="0.9"/>
<circle cx="361.4" cy="182.7" r="6.5" fill="#F8D48E" stroke="#C4A262" stroke-width="0.9"/>
<circle cx="359.1" cy="187.0" r="6.5" fill="#E7E5F3" stroke="#9C99B6" stroke-width="0.9"/>
<circle cx="52.2" cy="93.8" r="4.6" fill="#FCF4EA" stroke="#9E9282" stroke-width="0.9"/>
<circle cx="44.5" cy="112.3" r="4.6" fill="#FCF4EA" stroke="#9E9282" stroke-width="0.9"/>
<circle cx="47.4" cy="229.9" r="4.6" fill="#C6C4E2" stroke="#8583AA" stroke-width="0.9"/>
<circle cx="53.0" cy="241.5" r="4.6" fill="#FCF4EA" stroke="#9E9282" stroke-width="0.9"/>
<circle cx="155.3" cy="189.6" r="4.6" fill="#E7E5F3" stroke="#9C99B6" stroke-width="0.9"/>
<circle cx="221.0" cy="178.1" r="4.6" fill="#FCF4EA" stroke="#9E9282" stroke-width="0.9"/>
<circle cx="239.0" cy="142.2" r="4.6" fill="#FCF4EA" stroke="#9E9282" stroke-width="0.9"/>
<circle cx="237.4" cy="174.7" r="4.6" fill="#FCF4EA" stroke="#9E9282" stroke-width="0.9"/>
<circle cx="231.0" cy="198.8" r="4.6" fill="#F8D48E" stroke="#C4A262" stroke-width="0.9"/>
<circle cx="208.8" cy="233.8" r="4.6" fill="#E7E5F3" stroke="#9C99B6" stroke-width="0.9"/>
<circle cx="266.5" cy="235.5" r="4.6" fill="#FCF4EA" stroke="#9E9282" stroke-width="0.9"/>
<circle cx="292.2" cy="157.9" r="4.6" fill="#FCF4EA" stroke="#9E9282" stroke-width="0.9"/>
<circle cx="305.8" cy="155.8" r="4.6" fill="#F8D48E" stroke="#C4A262" stroke-width="0.9"/>
<circle cx="308.5" cy="168.6" r="4.6" fill="#F8D48E" stroke="#C4A262" stroke-width="0.9"/>
<circle cx="323.5" cy="172.0" r="4.6" fill="#F8D48E" stroke="#C4A262" stroke-width="0.9"/>
<circle cx="329.6" cy="170.9" r="4.6" fill="#F49322" stroke="#C9761A" stroke-width="0.9"/>
<circle cx="347.1" cy="147.6" r="4.6" fill="#FCF4EA" stroke="#9E9282" stroke-width="0.9"/>
<circle cx="357.3" cy="146.6" r="4.6" fill="#FCF4EA" stroke="#9E9282" stroke-width="0.9"/>
<circle cx="291.9" cy="188.8" r="4.6" fill="#F8D48E" stroke="#C4A262" stroke-width="0.9"/>
<circle cx="306.2" cy="187.2" r="4.6" fill="#F49322" stroke="#C9761A" stroke-width="0.9"/>
<circle cx="304.6" cy="193.8" r="4.6" fill="#F8D48E" stroke="#C4A262" stroke-width="0.9"/>
<circle cx="314.5" cy="184.2" r="4.6" fill="#F8D48E" stroke="#C4A262" stroke-width="0.9"/>
<circle cx="296.4" cy="203.0" r="4.6" fill="#C6C4E2" stroke="#8583AA" stroke-width="0.9"/>
<circle cx="388.5" cy="147.1" r="4.6" fill="#FCF4EA" stroke="#9E9282" stroke-width="0.9"/>
<circle cx="392.3" cy="150.4" r="4.6" fill="#FCF4EA" stroke="#9E9282" stroke-width="0.9"/>
<circle cx="383.7" cy="153.2" r="4.6" fill="#FCF4EA" stroke="#9E9282" stroke-width="0.9"/>
<circle cx="383.1" cy="157.8" r="4.6" fill="#FCF4EA" stroke="#9E9282" stroke-width="0.9"/>
<circle cx="375.7" cy="165.3" r="4.6" fill="#F8D48E" stroke="#C4A262" stroke-width="0.9"/>
<circle cx="374.1" cy="178.5" r="4.6" fill="#F49322" stroke="#C9761A" stroke-width="0.9"/>
<circle cx="358.8" cy="200.4" r="4.6" fill="#C6C4E2" stroke="#8583AA" stroke-width="0.9"/>
<circle cx="290.8" cy="223.8" r="4.6" fill="#C6C4E2" stroke="#8583AA" stroke-width="0.9"/>
<circle cx="293.1" cy="249.1" r="4.6" fill="#FCF4EA" stroke="#9E9282" stroke-width="0.9"/>
<circle cx="311.8" cy="244.9" r="4.6" fill="#FCF4EA" stroke="#9E9282" stroke-width="0.9"/>
<circle cx="269.5" cy="285.3" r="4.6" fill="#F8D48E" stroke="#C4A262" stroke-width="0.9"/>
<circle cx="338.0" cy="274.4" r="4.6" fill="#4D2F78" stroke="#33205A" stroke-width="0.9"/>
<circle cx="357.1" cy="315.2" r="4.6" fill="#4D2F78" stroke="#33205A" stroke-width="0.9"/>
<circle cx="209.9" cy="260.0" r="4.6" fill="#C6C4E2" stroke="#8583AA" stroke-width="0.9"/>
<circle cx="214.2" cy="259.7" r="4.6" fill="#E7E5F3" stroke="#9C99B6" stroke-width="0.9"/>
<circle cx="225.7" cy="288.7" r="4.6" fill="#7870AE" stroke="#4E4786" stroke-width="0.9"/>
<circle cx="199.8" cy="291.6" r="4.6" fill="#E7E5F3" stroke="#9C99B6" stroke-width="0.9"/>
<circle cx="50.5" cy="97.5" r="3.0" fill="#C6C4E2" stroke="#8583AA" stroke-width="0.9"/>
<circle cx="83.0" cy="101.3" r="3.0" fill="#E7E5F3" stroke="#9C99B6" stroke-width="0.9"/>
<circle cx="26.9" cy="184.4" r="3.0" fill="#F8D48E" stroke="#C4A262" stroke-width="0.9"/>
<circle cx="28.4" cy="189.5" r="3.0" fill="#C6C4E2" stroke="#8583AA" stroke-width="0.9"/>
<circle cx="34.5" cy="178.7" r="3.0" fill="#FCF4EA" stroke="#9E9282" stroke-width="0.9"/>
<circle cx="34.3" cy="184.9" r="3.0" fill="#FCF4EA" stroke="#9E9282" stroke-width="0.9"/>
<circle cx="42.2" cy="199.1" r="3.0" fill="#FCF4EA" stroke="#9E9282" stroke-width="0.9"/>
<circle cx="107.2" cy="173.4" r="3.0" fill="#E7E5F3" stroke="#9C99B6" stroke-width="0.9"/>
<circle cx="94.1" cy="242.5" r="3.0" fill="#F8D48E" stroke="#C4A262" stroke-width="0.9"/>
<circle cx="156.7" cy="204.2" r="3.0" fill="#E7E5F3" stroke="#9C99B6" stroke-width="0.9"/>
<circle cx="217.8" cy="166.2" r="3.0" fill="#FCF4EA" stroke="#9E9282" stroke-width="0.9"/>
<circle cx="215.5" cy="182.4" r="3.0" fill="#C6C4E2" stroke="#8583AA" stroke-width="0.9"/>
<circle cx="246.2" cy="124.6" r="3.0" fill="#C6C4E2" stroke="#8583AA" stroke-width="0.9"/>
<circle cx="251.1" cy="170.5" r="3.0" fill="#FCF4EA" stroke="#9E9282" stroke-width="0.9"/>
<circle cx="259.0" cy="174.5" r="3.0" fill="#C6C4E2" stroke="#8583AA" stroke-width="0.9"/>
<circle cx="266.5" cy="182.1" r="3.0" fill="#FCF4EA" stroke="#9E9282" stroke-width="0.9"/>
<circle cx="266.7" cy="190.8" r="3.0" fill="#E7E5F3" stroke="#9C99B6" stroke-width="0.9"/>
<circle cx="266.3" cy="159.1" r="3.0" fill="#E7E5F3" stroke="#9C99B6" stroke-width="0.9"/>
<circle cx="277.8" cy="161.5" r="3.0" fill="#FCF4EA" stroke="#9E9282" stroke-width="0.9"/>
<circle cx="269.0" cy="166.6" r="3.0" fill="#FCF4EA" stroke="#9E9282" stroke-width="0.9"/>
<circle cx="281.8" cy="172.2" r="3.0" fill="#DD4F26" stroke="#B23A18" stroke-width="0.9"/>
<circle cx="228.9" cy="192.4" r="3.0" fill="#E7E5F3" stroke="#9C99B6" stroke-width="0.9"/>
<circle cx="222.8" cy="199.4" r="3.0" fill="#E7E5F3" stroke="#9C99B6" stroke-width="0.9"/>
<circle cx="240.9" cy="216.8" r="3.0" fill="#C6C4E2" stroke="#8583AA" stroke-width="0.9"/>
<circle cx="210.5" cy="212.4" r="3.0" fill="#FCF4EA" stroke="#9E9282" stroke-width="0.9"/>
<circle cx="283.3" cy="207.0" r="3.0" fill="#E7E5F3" stroke="#9C99B6" stroke-width="0.9"/>
<circle cx="220.6" cy="227.3" r="3.0" fill="#E7E5F3" stroke="#9C99B6" stroke-width="0.9"/>
<circle cx="249.4" cy="240.3" r="3.0" fill="#7870AE" stroke="#4E4786" stroke-width="0.9"/>
<circle cx="289.4" cy="170.6" r="3.0" fill="#FCF4EA" stroke="#9E9282" stroke-width="0.9"/>
<circle cx="297.9" cy="175.4" r="3.0" fill="#FCF4EA" stroke="#9E9282" stroke-width="0.9"/>
<circle cx="305.9" cy="162.5" r="3.0" fill="#F8D48E" stroke="#C4A262" stroke-width="0.9"/>
<circle cx="331.9" cy="160.4" r="3.0" fill="#E7E5F3" stroke="#9C99B6" stroke-width="0.9"/>
<circle cx="337.4" cy="150.1" r="3.0" fill="#FCF4EA" stroke="#9E9282" stroke-width="0.9"/>
<circle cx="363.4" cy="144.8" r="3.0" fill="#FCF4EA" stroke="#9E9282" stroke-width="0.9"/>
<circle cx="374.4" cy="146.7" r="3.0" fill="#FCF4EA" stroke="#9E9282" stroke-width="0.9"/>
<circle cx="395.4" cy="131.3" r="3.0" fill="#E7E5F3" stroke="#9C99B6" stroke-width="0.9"/>
<circle cx="330.7" cy="180.8" r="3.0" fill="#FCF4EA" stroke="#9E9282" stroke-width="0.9"/>
<circle cx="305.2" cy="195.2" r="3.0" fill="#FCF4EA" stroke="#9E9282" stroke-width="0.9"/>
<circle cx="320.5" cy="198.4" r="3.0" fill="#E7E5F3" stroke="#9C99B6" stroke-width="0.9"/>
<circle cx="326.7" cy="198.1" r="3.0" fill="#C6C4E2" stroke="#8583AA" stroke-width="0.9"/>
<circle cx="340.8" cy="206.4" r="3.0" fill="#C6C4E2" stroke="#8583AA" stroke-width="0.9"/>
<circle cx="392.9" cy="144.8" r="3.0" fill="#E7E5F3" stroke="#9C99B6" stroke-width="0.9"/>
<circle cx="393.0" cy="144.6" r="3.0" fill="#FCF4EA" stroke="#9E9282" stroke-width="0.9"/>
<circle cx="393.8" cy="143.6" r="3.0" fill="#FCF4EA" stroke="#9E9282" stroke-width="0.9"/>
<circle cx="390.9" cy="142.8" r="3.0" fill="#FCF4EA" stroke="#9E9282" stroke-width="0.9"/>
<circle cx="391.8" cy="141.7" r="3.0" fill="#FCF4EA" stroke="#9E9282" stroke-width="0.9"/>
<circle cx="389.0" cy="139.7" r="3.0" fill="#E7E5F3" stroke="#9C99B6" stroke-width="0.9"/>
<circle cx="383.5" cy="149.9" r="3.0" fill="#FCF4EA" stroke="#9E9282" stroke-width="0.9"/>
<circle cx="381.4" cy="159.4" r="3.0" fill="#FCF4EA" stroke="#9E9282" stroke-width="0.9"/>
<circle cx="381.6" cy="155.7" r="3.0" fill="#FCF4EA" stroke="#9E9282" stroke-width="0.9"/>
<circle cx="396.0" cy="151.2" r="3.0" fill="#FCF4EA" stroke="#9E9282" stroke-width="0.9"/>
<circle cx="394.3" cy="151.1" r="3.0" fill="#FCF4EA" stroke="#9E9282" stroke-width="0.9"/>
<circle cx="363.9" cy="161.3" r="3.0" fill="#FCF4EA" stroke="#9E9282" stroke-width="0.9"/>
<circle cx="362.7" cy="163.1" r="3.0" fill="#FCF4EA" stroke="#9E9282" stroke-width="0.9"/>
<circle cx="366.9" cy="168.6" r="3.0" fill="#FCF4EA" stroke="#9E9282" stroke-width="0.9"/>
<circle cx="364.2" cy="171.8" r="3.0" fill="#FCF4EA" stroke="#9E9282" stroke-width="0.9"/>
<circle cx="372.7" cy="171.1" r="3.0" fill="#F8D48E" stroke="#C4A262" stroke-width="0.9"/>
<circle cx="377.2" cy="163.0" r="3.0" fill="#FCF4EA" stroke="#9E9282" stroke-width="0.9"/>
<circle cx="376.4" cy="165.2" r="3.0" fill="#FCF4EA" stroke="#9E9282" stroke-width="0.9"/>
<circle cx="375.3" cy="163.6" r="3.0" fill="#FCF4EA" stroke="#9E9282" stroke-width="0.9"/>
<circle cx="368.6" cy="205.2" r="3.0" fill="#F8D48E" stroke="#C4A262" stroke-width="0.9"/>
<circle cx="340.4" cy="217.9" r="3.0" fill="#F8D48E" stroke="#C4A262" stroke-width="0.9"/>
<circle cx="343.8" cy="217.6" r="3.0" fill="#7870AE" stroke="#4E4786" stroke-width="0.9"/>
<circle cx="350.7" cy="217.2" r="3.0" fill="#FCF4EA" stroke="#9E9282" stroke-width="0.9"/>
<circle cx="337.2" cy="226.9" r="3.0" fill="#E7E5F3" stroke="#9C99B6" stroke-width="0.9"/>
<circle cx="337.6" cy="238.8" r="3.0" fill="#7870AE" stroke="#4E4786" stroke-width="0.9"/>
<circle cx="331.1" cy="245.0" r="3.0" fill="#E7E5F3" stroke="#9C99B6" stroke-width="0.9"/>
<circle cx="348.1" cy="249.0" r="3.0" fill="#7870AE" stroke="#4E4786" stroke-width="0.9"/>
<circle cx="318.8" cy="252.8" r="3.0" fill="#E7E5F3" stroke="#9C99B6" stroke-width="0.9"/>
<circle cx="340.0" cy="257.1" r="3.0" fill="#4D2F78" stroke="#33205A" stroke-width="0.9"/>
<circle cx="312.8" cy="223.3" r="3.0" fill="#7870AE" stroke="#4E4786" stroke-width="0.9"/>
<circle cx="303.2" cy="233.3" r="3.0" fill="#4D2F78" stroke="#33205A" stroke-width="0.9"/>
<circle cx="308.5" cy="257.7" r="3.0" fill="#C6C4E2" stroke="#8583AA" stroke-width="0.9"/>
<circle cx="298.2" cy="259.7" r="3.0" fill="#7870AE" stroke="#4E4786" stroke-width="0.9"/>
<circle cx="267.2" cy="262.9" r="3.0" fill="#4D2F78" stroke="#33205A" stroke-width="0.9"/>
<circle cx="285.6" cy="277.1" r="3.0" fill="#7870AE" stroke="#4E4786" stroke-width="0.9"/>
<circle cx="334.7" cy="297.8" r="3.0" fill="#C6C4E2" stroke="#8583AA" stroke-width="0.9"/>
<circle cx="333.4" cy="299.7" r="3.0" fill="#E7E5F3" stroke="#9C99B6" stroke-width="0.9"/>
<circle cx="175.5" cy="234.9" r="3.0" fill="#F8D48E" stroke="#C4A262" stroke-width="0.9"/>
<circle cx="136.0" cy="264.8" r="3.0" fill="#E7E5F3" stroke="#9C99B6" stroke-width="0.9"/>
<circle cx="211.2" cy="271.5" r="3.0" fill="#C6C4E2" stroke="#8583AA" stroke-width="0.9"/>
<circle cx="206.2" cy="283.7" r="3.0" fill="#7870AE" stroke="#4E4786" stroke-width="0.9"/>
<circle cx="230.5" cy="293.0" r="3.0" fill="#F8D48E" stroke="#C4A262" stroke-width="0.9"/>
<circle cx="238.5" cy="262.0" r="3.0" fill="#4D2F78" stroke="#33205A" stroke-width="0.9"/>
<circle cx="235.9" cy="285.5" r="3.0" fill="#E7E5F3" stroke="#9C99B6" stroke-width="0.9"/>
<circle cx="208.6" cy="307.2" r="3.0" fill="#F8D48E" stroke="#C4A262" stroke-width="0.9"/>
<circle cx="231.8" cy="199.3" r="2.0" fill="#8A5A38" stroke="#6A4028" stroke-width="0.9"/>
<circle cx="368.9" cy="205.3" r="1.4" fill="#3C2A58" stroke="#2A1C40" stroke-width="0.9"/>
<circle cx="121.7" cy="110.4" r="1.25" fill="#B2B0B8" stroke="#7A7880" stroke-width="0.9"/>
<circle cx="115.5" cy="118.1" r="1.25" fill="#B2B0B8" stroke="#7A7880" stroke-width="0.9"/>
<circle cx="111.4" cy="123.1" r="1.25" fill="#B2B0B8" stroke="#7A7880" stroke-width="0.9"/>
<circle cx="137.6" cy="129.3" r="1.25" fill="#B2B0B8" stroke="#7A7880" stroke-width="0.9"/>
<circle cx="106.7" cy="152.8" r="1.25" fill="#B2B0B8" stroke="#7A7880" stroke-width="0.9"/>
<circle cx="82.7" cy="140.7" r="1.25" fill="#B2B0B8" stroke="#7A7880" stroke-width="0.9"/>
<circle cx="107.4" cy="168.9" r="1.25" fill="#B2B0B8" stroke="#7A7880" stroke-width="0.9"/>
<circle cx="44.7" cy="213.4" r="1.25" fill="#B2B0B8" stroke="#7A7880" stroke-width="0.9"/>
<circle cx="54.0" cy="229.4" r="1.25" fill="#B2B0B8" stroke="#7A7880" stroke-width="0.9"/>
<circle cx="100.8" cy="255.6" r="1.25" fill="#B2B0B8" stroke="#7A7880" stroke-width="0.9"/>
<circle cx="157.8" cy="176.3" r="1.25" fill="#6E6898" stroke="#4A4470" stroke-width="0.9"/>
<circle cx="156.5" cy="198.8" r="1.25" fill="#B2B0B8" stroke="#7A7880" stroke-width="0.9"/>
<circle cx="203.8" cy="181.2" r="1.25" fill="#B2B0B8" stroke="#7A7880" stroke-width="0.9"/>
<circle cx="253.8" cy="190.0" r="1.25" fill="#B2B0B8" stroke="#7A7880" stroke-width="0.9"/>
<circle cx="225.4" cy="231.2" r="1.25" fill="#3C2A58" stroke="#2A1C40" stroke-width="0.9"/>
<circle cx="232.9" cy="234.5" r="1.25" fill="#3C2A58" stroke="#2A1C40" stroke-width="0.9"/>
<circle cx="251.8" cy="245.2" r="1.25" fill="#3C2A58" stroke="#2A1C40" stroke-width="0.9"/>
<circle cx="373.9" cy="128.8" r="1.25" fill="#B2B0B8" stroke="#7A7880" stroke-width="0.9"/>
<circle cx="305.9" cy="204.0" r="1.25" fill="#3C2A58" stroke="#2A1C40" stroke-width="0.9"/>
<circle cx="345.9" cy="182.0" r="1.25" fill="#B2B0B8" stroke="#7A7880" stroke-width="0.9"/>
<circle cx="359.2" cy="188.0" r="1.25" fill="#3C2A58" stroke="#2A1C40" stroke-width="0.9"/>
<circle cx="366.4" cy="223.2" r="1.25" fill="#3C2A58" stroke="#2A1C40" stroke-width="0.9"/>
<circle cx="352.4" cy="226.1" r="1.25" fill="#3C2A58" stroke="#2A1C40" stroke-width="0.9"/>
<circle cx="325.8" cy="232.3" r="1.25" fill="#B2B0B8" stroke="#7A7880" stroke-width="0.9"/>
<circle cx="361.1" cy="232.5" r="1.25" fill="#3C2A58" stroke="#2A1C40" stroke-width="0.9"/>
<circle cx="293.6" cy="237.4" r="1.25" fill="#3C2A58" stroke="#2A1C40" stroke-width="0.9"/>
<circle cx="261.6" cy="262.8" r="1.25" fill="#3C2A58" stroke="#2A1C40" stroke-width="0.9"/>
<circle cx="279.0" cy="261.6" r="1.25" fill="#B2B0B8" stroke="#7A7880" stroke-width="0.9"/>
<circle cx="257.8" cy="270.6" r="1.25" fill="#B2B0B8" stroke="#7A7880" stroke-width="0.9"/>
<circle cx="260.0" cy="281.1" r="1.25" fill="#3C2A58" stroke="#2A1C40" stroke-width="0.9"/>
<circle cx="278.9" cy="280.4" r="1.25" fill="#B2B0B8" stroke="#7A7880" stroke-width="0.9"/>
<circle cx="292.5" cy="279.1" r="1.25" fill="#3C2A58" stroke="#2A1C40" stroke-width="0.9"/>
<circle cx="316.5" cy="276.3" r="1.25" fill="#3C2A58" stroke="#2A1C40" stroke-width="0.9"/>
<circle cx="342.9" cy="290.9" r="1.25" fill="#3C2A58" stroke="#2A1C40" stroke-width="0.9"/>
<circle cx="345.2" cy="328.8" r="1.25" fill="#6E6898" stroke="#4A4470" stroke-width="0.9"/>
<circle cx="153.2" cy="250.8" r="1.25" fill="#B2B0B8" stroke="#7A7880" stroke-width="0.9"/>
<circle cx="201.0" cy="248.6" r="1.25" fill="#B2B0B8" stroke="#7A7880" stroke-width="0.9"/>
<circle cx="190.7" cy="262.3" r="1.25" fill="#B2B0B8" stroke="#7A7880" stroke-width="0.9"/>
<circle cx="138.2" cy="233.0" r="1.25" fill="#B2B0B8" stroke="#7A7880" stroke-width="0.9"/>
</g>
</g>
<g transform="translate(459.0,0)">
<g transform="translate(0.5,0.8)">
<path d="M39.5,82.5 L43.4,85.7 L46.7,87.2 L50.7,88.6 L51.0,91.1 L48.4,94.8 L47.3,97.5 L50.0,96.5 L51.9,93.7 L53.6,90.9 L52.9,87.3 L54.1,83.2 L53.2,80.5 L70.1,85.1 L88.5,89.5 L107.2,93.4 L125.9,96.7 L144.7,99.4 L163.6,101.5 L182.6,103.0 L201.6,103.9 L212.8,104.2 L226.0,104.2 L225.9,100.6 L228.0,101.4 L229.0,105.6 L229.5,107.0 L234.6,107.4 L239.7,108.2 L242.3,107.4 L244.2,109.0 L248.8,109.7 L254.0,111.8 L259.1,111.5 L262.1,112.3 L268.7,109.9 L278.5,111.9 L292.4,119.0 L295.8,123.4 L301.4,127.5 L305.4,127.9 L311.3,135.8 L314.5,148.9 L314.5,154.7 L314.2,158.6 L311.7,161.4 L310.9,164.4 L315.0,166.8 L322.4,164.2 L330.8,159.0 L335.3,155.8 L338.7,151.7 L337.2,148.6 L340.3,144.6 L350.4,142.7 L353.9,139.0 L354.0,136.1 L356.5,133.1 L359.4,129.0 L362.6,126.3 L371.8,124.2 L383.9,121.1 L385.9,117.6 L387.2,115.3 L389.2,111.3 L388.9,107.9 L389.3,102.9 L390.4,99.6 L392.2,94.5 L394.9,95.3 L397.9,93.9 L402.0,95.2 L405.3,105.6 L406.0,108.4 L410.5,111.5 L413.8,114.2 L412.2,117.0 L408.1,119.7 L405.1,121.6 L402.9,123.8 L401.0,126.8 L397.4,129.3 L395.6,131.8 L394.7,135.1 L393.9,137.8 L393.7,139.8 L395.7,141.3 L394.0,143.2 L394.0,145.2 L396.7,146.5 L397.9,148.1 L399.0,149.3 L401.4,148.9 L402.1,147.5 L400.0,146.0 L402.0,146.5 L402.7,149.0 L402.6,150.3 L398.1,151.6 L395.8,152.5 L394.5,153.2 L393.2,152.4 L392.9,154.0 L390.7,155.5 L387.4,156.9 L383.3,158.1 L380.8,160.0 L378.8,162.0 L377.9,163.5 L376.9,166.2 L375.7,167.6 L377.5,167.7 L378.1,171.0 L378.4,174.4 L377.4,178.1 L375.5,181.5 L374.1,183.5 L373.6,181.5 L371.5,180.4 L368.7,179.6 L370.3,181.7 L371.5,183.9 L373.5,185.1 L374.4,188.2 L374.0,191.7 L373.3,193.9 L372.2,197.6 L370.4,202.2 L369.4,198.7 L369.7,194.7 L367.8,191.1 L365.8,188.6 L365.0,184.8 L365.2,180.8 L364.6,179.5 L362.9,182.3 L363.2,185.2 L363.6,189.0 L365.5,192.6 L366.8,195.3 L367.0,198.2 L367.0,201.6 L368.2,203.8 L370.6,204.0 L372.3,207.4 L374.1,210.5 L376.3,213.9 L377.5,219.1 L375.0,221.1 L370.5,226.0 L366.7,227.2 L363.1,230.9 L361.8,234.6 L361.3,236.1 L357.4,236.4 L354.6,238.9 L353.3,242.5 L351.9,246.2 L348.4,249.2 L344.8,252.3 L341.9,256.6 L340.1,260.8 L339.6,265.7 L339.2,270.6 L340.2,274.3 L342.3,279.8 L345.1,284.2 L347.3,287.7 L349.9,290.7 L350.6,294.9 L353.5,299.2 L355.9,303.6 L357.1,308.2 L357.5,313.0 L357.1,315.9 L356.3,318.9 L355.7,320.9 L352.0,322.3 L349.7,321.9 L347.8,318.4 L344.0,316.6 L342.3,313.5 L340.0,310.0 L337.3,306.5 L334.3,303.2 L332.5,300.0 L331.5,295.9 L331.7,291.0 L330.5,288.3 L327.7,286.8 L324.3,283.4 L320.2,280.5 L317.6,279.6 L315.3,281.1 L311.5,284.0 L308.6,284.3 L306.2,281.7 L301.9,279.8 L297.6,278.8 L292.4,279.7 L289.6,281.0 L286.3,281.2 L284.9,279.9 L281.3,280.7 L276.4,280.8 L274.4,281.7 L272.4,283.7 L274.9,284.0 L275.5,285.9 L274.1,289.4 L276.7,291.1 L277.6,292.9 L276.5,294.0 L273.4,292.3 L271.3,291.4 L269.3,293.0 L265.6,294.2 L262.2,293.9 L259.6,292.1 L257.0,289.8 L252.1,290.1 L247.1,289.8 L242.9,288.5 L238.3,289.0 L234.6,290.6 L230.9,292.5 L228.0,295.4 L223.9,298.3 L220.5,299.7 L216.3,302.1 L212.5,305.4 L209.9,308.2 L208.6,312.9 L208.9,317.7 L210.1,322.4 L210.5,324.8 L207.9,325.3 L204.9,323.8 L201.5,322.3 L196.4,320.3 L193.4,318.3 L191.0,314.4 L190.7,309.6 L187.9,305.7 L184.3,301.8 L182.8,297.9 L180.5,293.9 L178.9,291.5 L175.8,287.5 L171.7,286.8 L167.5,287.4 L164.8,290.1 L162.1,293.7 L160.4,293.9 L157.2,291.9 L155.2,290.3 L150.9,287.6 L148.7,284.0 L147.9,279.1 L147.0,276.2 L142.9,271.9 L139.1,268.6 L135.7,264.6 L122.2,263.0 L121.6,267.3 L98.6,263.9 L71.0,247.5 L72.1,245.6 L52.9,243.4 L52.7,241.7 L52.5,238.7 L50.4,233.7 L48.4,231.8 L45.7,229.7 L45.6,227.0 L43.3,226.3 L40.4,224.9 L38.1,221.3 L33.7,219.5 L31.6,219.2 L31.4,214.6 L31.2,212.1 L30.7,209.5 L28.5,205.9 L27.8,202.7 L25.6,199.1 L26.1,196.2 L27.7,194.7 L26.3,192.6 L24.4,189.7 L24.4,186.7 L25.0,184.1 L23.5,181.9 L22.2,181.1 L22.6,178.2 L20.9,173.6 L19.6,170.7 L20.4,166.4 L21.1,162.7 L20.2,159.4 L19.1,155.6 L21.2,153.1 L23.2,149.2 L24.1,143.9 L24.8,141.6 L24.5,137.5 L24.9,133.2 L26.9,130.2 L29.7,126.1 L32.0,120.8 L33.7,116.3 L36.3,110.1 L37.8,105.6 L37.9,103.1 L38.7,98.9 L39.2,95.0 L39.3,91.1 L38.7,87.0 L39.5,82.5Z M377.2,166.5 L378.5,164.0 L380.6,162.0 L384.0,160.9 L387.2,158.9 L388.4,157.9 L388.9,160.0 L391.0,158.4 L389.0,160.4 L386.5,162.1 L382.7,164.5 L380.0,165.6 L377.6,166.5Z" fill="#F2E9D2"/>
<path d="M285.3,170.2 L299.4,168.7 L309.1,168.1 L311.1,164.9 L311.7,161.4 L314.2,158.6 L314.5,154.7 L313.3,140.3 L301.4,127.5 L295.8,123.4 L292.4,119.0 L278.5,111.9 L268.7,109.9 L262.7,117.0 L257.4,125.9 L263.6,129.3 L269.0,130.8 L273.1,132.4 L275.4,135.6 L277.0,138.8 L280.1,135.2 L283.2,139.2 L284.5,167.9Z" fill="#F3EBD8"/>
<path d="M295.8,123.4 L293.0,121.4 L289.0,124.7 L284.9,123.2 L281.8,125.7 L277.1,124.9 L274.3,122.3 L271.6,122.0 L274.0,119.0 L273.4,116.5 L270.1,119.3 L268.3,121.8 L264.5,124.0 L258.7,125.8 L254.7,125.6 L253.3,123.3 L249.5,125.2 L246.2,125.3 L249.3,122.5 L254.3,117.5 L259.9,113.9 L263.0,112.2 L264.7,108.3 L270.1,104.1 L275.1,102.3 L281.7,104.9 L291.3,109.6 L293.7,114.1 L294.9,118.7 L295.8,123.4Z M295.6,129.7 L291.6,129.7 L288.2,129.1 L284.3,130.4 L281.7,131.2 L280.1,132.3 L276.9,136.9 L276.4,139.8 L274.8,144.3 L277.3,141.7 L279.6,137.6 L279.2,140.5 L278.2,144.4 L277.4,150.3 L276.4,155.2 L276.7,159.0 L277.8,163.7 L279.3,168.4 L280.2,170.8 L282.1,171.8 L285.5,170.7 L287.3,167.2 L288.6,162.7 L288.5,157.9 L286.3,153.3 L285.4,148.6 L286.8,145.1 L287.6,139.7 L289.8,138.0 L291.1,140.3 L291.8,136.4 L293.7,133.3 L294.1,130.8 L295.6,129.7Z M295.6,129.7 L300.7,127.8 L303.2,126.3 L309.6,124.5 L316.3,124.4 L321.2,125.6 L324.3,128.0 L327.9,133.2 L328.0,138.0 L320.2,136.4 L316.9,132.6 L318.0,139.6 L317.9,144.5 L319.0,151.1 L314.5,154.7 L312.8,149.1 L311.2,145.0 L307.2,146.0 L303.6,150.4 L302.8,147.1 L306.5,143.2 L305.9,136.5 L302.4,133.2 L297.7,130.4 L295.6,129.7Z M309.0,167.8 L312.4,169.1 L314.7,169.7 L318.2,169.7 L321.6,168.2 L324.7,165.3 L328.6,162.7 L331.8,160.3 L336.0,156.1 L338.8,151.9 L335.5,152.8 L330.7,154.1 L328.3,156.5 L322.8,157.3 L319.1,160.8 L315.2,163.8 L311.1,164.9 L309.0,167.8Z M337.2,148.6 L340.8,147.4 L346.9,146.1 L351.4,143.9 L354.0,142.9 L355.4,139.7 L354.2,137.0 L352.0,136.5 L349.0,139.0 L345.1,140.3 L339.9,142.3 L334.1,145.2 L332.0,149.0 L337.2,148.6Z M313.7,158.2 L312.1,159.4 L312.1,161.3 L314.5,161.0 L313.7,158.2Z M372.7,208.8 L374.3,211.4 L375.8,214.0 L377.3,219.1 L375.4,221.0 L373.8,222.8 L373.1,221.5 L373.3,218.5 L373.0,215.6 L372.1,213.3 L372.7,212.2 L372.2,209.9Z M367.9,204.4 L370.4,202.4 L369.8,197.6 L368.8,193.9 L366.9,190.3 L365.2,185.8 L364.4,182.0 L364.9,179.4 L362.7,181.4 L362.8,185.3 L363.2,189.1 L364.7,192.7 L366.2,196.4 L367.0,200.1 L366.9,203.1Z M373.6,184.9 L370.8,180.6 L368.4,178.2 L369.2,180.0 L373.3,181.5 L374.4,183.4Z" fill="#fff" stroke="#fff" stroke-width="1.2"/>
<path d="M39.5,82.5 L43.4,85.7 L46.7,87.2 L50.7,88.6 L51.0,91.1 L48.4,94.8 L47.3,97.5 L50.0,96.5 L51.9,93.7 L53.6,90.9 L52.9,87.3 L54.1,83.2 L53.2,80.5 L70.1,85.1 L88.5,89.5 L107.2,93.4 L125.9,96.7 L144.7,99.4 L163.6,101.5 L182.6,103.0 L201.6,103.9 L212.8,104.2 L226.0,104.2 L225.9,100.6 L228.0,101.4 L229.0,105.6 L229.5,107.0 L234.6,107.4 L239.7,108.2 L242.3,107.4 L244.2,109.0 L248.8,109.7 L254.0,111.8 L259.1,111.5 L262.1,112.3 L268.7,109.9 L278.5,111.9 L292.4,119.0 L295.8,123.4 L301.4,127.5 L305.4,127.9 L311.3,135.8 L314.5,148.9 L314.5,154.7 L314.2,158.6 L311.7,161.4 L310.9,164.4 L315.0,166.8 L322.4,164.2 L330.8,159.0 L335.3,155.8 L338.7,151.7 L337.2,148.6 L340.3,144.6 L350.4,142.7 L353.9,139.0 L354.0,136.1 L356.5,133.1 L359.4,129.0 L362.6,126.3 L371.8,124.2 L383.9,121.1 L385.9,117.6 L387.2,115.3 L389.2,111.3 L388.9,107.9 L389.3,102.9 L390.4,99.6 L392.2,94.5 L394.9,95.3 L397.9,93.9 L402.0,95.2 L405.3,105.6 L406.0,108.4 L410.5,111.5 L413.8,114.2 L412.2,117.0 L408.1,119.7 L405.1,121.6 L402.9,123.8 L401.0,126.8 L397.4,129.3 L395.6,131.8 L394.7,135.1 L393.9,137.8 L393.7,139.8 L395.7,141.3 L394.0,143.2 L394.0,145.2 L396.7,146.5 L397.9,148.1 L399.0,149.3 L401.4,148.9 L402.1,147.5 L400.0,146.0 L402.0,146.5 L402.7,149.0 L402.6,150.3 L398.1,151.6 L395.8,152.5 L394.5,153.2 L393.2,152.4 L392.9,154.0 L390.7,155.5 L387.4,156.9 L383.3,158.1 L380.8,160.0 L378.8,162.0 L377.9,163.5 L376.9,166.2 L375.7,167.6 L377.5,167.7 L378.1,171.0 L378.4,174.4 L377.4,178.1 L375.5,181.5 L374.1,183.5 L373.6,181.5 L371.5,180.4 L368.7,179.6 L370.3,181.7 L371.5,183.9 L373.5,185.1 L374.4,188.2 L374.0,191.7 L373.3,193.9 L372.2,197.6 L370.4,202.2 L369.4,198.7 L369.7,194.7 L367.8,191.1 L365.8,188.6 L365.0,184.8 L365.2,180.8 L364.6,179.5 L362.9,182.3 L363.2,185.2 L363.6,189.0 L365.5,192.6 L366.8,195.3 L367.0,198.2 L367.0,201.6 L368.2,203.8 L370.6,204.0 L372.3,207.4 L374.1,210.5 L376.3,213.9 L377.5,219.1 L375.0,221.1 L370.5,226.0 L366.7,227.2 L363.1,230.9 L361.8,234.6 L361.3,236.1 L357.4,236.4 L354.6,238.9 L353.3,242.5 L351.9,246.2 L348.4,249.2 L344.8,252.3 L341.9,256.6 L340.1,260.8 L339.6,265.7 L339.2,270.6 L340.2,274.3 L342.3,279.8 L345.1,284.2 L347.3,287.7 L349.9,290.7 L350.6,294.9 L353.5,299.2 L355.9,303.6 L357.1,308.2 L357.5,313.0 L357.1,315.9 L356.3,318.9 L355.7,320.9 L352.0,322.3 L349.7,321.9 L347.8,318.4 L344.0,316.6 L342.3,313.5 L340.0,310.0 L337.3,306.5 L334.3,303.2 L332.5,300.0 L331.5,295.9 L331.7,291.0 L330.5,288.3 L327.7,286.8 L324.3,283.4 L320.2,280.5 L317.6,279.6 L315.3,281.1 L311.5,284.0 L308.6,284.3 L306.2,281.7 L301.9,279.8 L297.6,278.8 L292.4,279.7 L289.6,281.0 L286.3,281.2 L284.9,279.9 L281.3,280.7 L276.4,280.8 L274.4,281.7 L272.4,283.7 L274.9,284.0 L275.5,285.9 L274.1,289.4 L276.7,291.1 L277.6,292.9 L276.5,294.0 L273.4,292.3 L271.3,291.4 L269.3,293.0 L265.6,294.2 L262.2,293.9 L259.6,292.1 L257.0,289.8 L252.1,290.1 L247.1,289.8 L242.9,288.5 L238.3,289.0 L234.6,290.6 L230.9,292.5 L228.0,295.4 L223.9,298.3 L220.5,299.7 L216.3,302.1 L212.5,305.4 L209.9,308.2 L208.6,312.9 L208.9,317.7 L210.1,322.4 L210.5,324.8 L207.9,325.3 L204.9,323.8 L201.5,322.3 L196.4,320.3 L193.4,318.3 L191.0,314.4 L190.7,309.6 L187.9,305.7 L184.3,301.8 L182.8,297.9 L180.5,293.9 L178.9,291.5 L175.8,287.5 L171.7,286.8 L167.5,287.4 L164.8,290.1 L162.1,293.7 L160.4,293.9 L157.2,291.9 L155.2,290.3 L150.9,287.6 L148.7,284.0 L147.9,279.1 L147.0,276.2 L142.9,271.9 L139.1,268.6 L135.7,264.6 L122.2,263.0 L121.6,267.3 L98.6,263.9 L71.0,247.5 L72.1,245.6 L52.9,243.4 L52.7,241.7 L52.5,238.7 L50.4,233.7 L48.4,231.8 L45.7,229.7 L45.6,227.0 L43.3,226.3 L40.4,224.9 L38.1,221.3 L33.7,219.5 L31.6,219.2 L31.4,214.6 L31.2,212.1 L30.7,209.5 L28.5,205.9 L27.8,202.7 L25.6,199.1 L26.1,196.2 L27.7,194.7 L26.3,192.6 L24.4,189.7 L24.4,186.7 L25.0,184.1 L23.5,181.9 L22.2,181.1 L22.6,178.2 L20.9,173.6 L19.6,170.7 L20.4,166.4 L21.1,162.7 L20.2,159.4 L19.1,155.6 L21.2,153.1 L23.2,149.2 L24.1,143.9 L24.8,141.6 L24.5,137.5 L24.9,133.2 L26.9,130.2 L29.7,126.1 L32.0,120.8 L33.7,116.3 L36.3,110.1 L37.8,105.6 L37.9,103.1 L38.7,98.9 L39.2,95.0 L39.3,91.1 L38.7,87.0 L39.5,82.5Z M377.2,166.5 L378.5,164.0 L380.6,162.0 L384.0,160.9 L387.2,158.9 L388.4,157.9 L388.9,160.0 L391.0,158.4 L389.0,160.4 L386.5,162.1 L382.7,164.5 L380.0,165.6 L377.6,166.5Z M295.8,123.4 L293.0,121.4 L289.0,124.7 L284.9,123.2 L281.8,125.7 L277.1,124.9 L274.3,122.3 L271.6,122.0 L274.0,119.0 L273.4,116.5 L270.1,119.3 L268.3,121.8 L264.5,124.0 L258.7,125.8 L254.7,125.6 L253.3,123.3 L249.5,125.2 L246.2,125.3 L249.3,122.5 L254.3,117.5 L259.9,113.9 L263.0,112.2 L264.7,108.3 L270.1,104.1 L275.1,102.3 L281.7,104.9 L291.3,109.6 L293.7,114.1 L294.9,118.7 L295.8,123.4Z M295.6,129.7 L291.6,129.7 L288.2,129.1 L284.3,130.4 L281.7,131.2 L280.1,132.3 L276.9,136.9 L276.4,139.8 L274.8,144.3 L277.3,141.7 L279.6,137.6 L279.2,140.5 L278.2,144.4 L277.4,150.3 L276.4,155.2 L276.7,159.0 L277.8,163.7 L279.3,168.4 L280.2,170.8 L282.1,171.8 L285.5,170.7 L287.3,167.2 L288.6,162.7 L288.5,157.9 L286.3,153.3 L285.4,148.6 L286.8,145.1 L287.6,139.7 L289.8,138.0 L291.1,140.3 L291.8,136.4 L293.7,133.3 L294.1,130.8 L295.6,129.7Z M295.6,129.7 L300.7,127.8 L303.2,126.3 L309.6,124.5 L316.3,124.4 L321.2,125.6 L324.3,128.0 L327.9,133.2 L328.0,138.0 L320.2,136.4 L316.9,132.6 L318.0,139.6 L317.9,144.5 L319.0,151.1 L314.5,154.7 L312.8,149.1 L311.2,145.0 L307.2,146.0 L303.6,150.4 L302.8,147.1 L306.5,143.2 L305.9,136.5 L302.4,133.2 L297.7,130.4 L295.6,129.7Z M309.0,167.8 L312.4,169.1 L314.7,169.7 L318.2,169.7 L321.6,168.2 L324.7,165.3 L328.6,162.7 L331.8,160.3 L336.0,156.1 L338.8,151.9 L335.5,152.8 L330.7,154.1 L328.3,156.5 L322.8,157.3 L319.1,160.8 L315.2,163.8 L311.1,164.9 L309.0,167.8Z M337.2,148.6 L340.8,147.4 L346.9,146.1 L351.4,143.9 L354.0,142.9 L355.4,139.7 L354.2,137.0 L352.0,136.5 L349.0,139.0 L345.1,140.3 L339.9,142.3 L334.1,145.2 L332.0,149.0 L337.2,148.6Z M313.7,158.2 L312.1,159.4 L312.1,161.3 L314.5,161.0 L313.7,158.2Z M372.7,208.8 L374.3,211.4 L375.8,214.0 L377.3,219.1 L375.4,221.0 L373.8,222.8 L373.1,221.5 L373.3,218.5 L373.0,215.6 L372.1,213.3 L372.7,212.2 L372.2,209.9Z M367.9,204.4 L370.4,202.4 L369.8,197.6 L368.8,193.9 L366.9,190.3 L365.2,185.8 L364.4,182.0 L364.9,179.4 L362.7,181.4 L362.8,185.3 L363.2,189.1 L364.7,192.7 L366.2,196.4 L367.0,200.1 L366.9,203.1Z M373.6,184.9 L370.8,180.6 L368.4,178.2 L369.2,180.0 L373.3,181.5 L374.4,183.4Z" fill="none" stroke="#fff" stroke-width="4" filter="url(#glow)" opacity="0.9"/>
<path d="M38.1,103.2 L42.2,105.4 L44.1,110.9 L47.0,112.7 L54.5,113.3 L58.2,114.8 L65.2,114.7 L69.5,114.3 L82.8,117.4 M82.8,117.4 L82.9,113.3 L88.3,89.5 M82.8,117.4 L84.7,121.7 L82.8,124.2 L78.8,128.2 L77.7,131.4 L79.0,133.7 L77.5,137.8 L73.7,154.6 M24.8,141.6 L53.4,149.7 L73.7,154.6 L94.3,158.9 L115.0,162.6 M53.4,149.7 L46.1,177.7 L77.1,224.2 M77.1,224.2 L77.3,226.2 L78.2,229.9 L79.3,232.0 L76.0,234.8 L73.5,239.2 L74.3,243.3 L72.1,245.6 M77.1,224.2 L77.7,219.5 L78.1,214.6 L79.4,213.9 L83.5,214.7 L94.3,158.9 M85.1,206.2 L122.3,212.3 L167.8,217.2 L175.0,217.7 L231.0,219.1 M115.0,162.6 L113.5,172.1 L127.6,174.2 L114.9,266.3 M94.4,90.8 L92.4,100.1 L93.7,103.3 L93.6,105.6 L95.6,108.5 L97.4,111.3 L99.1,114.5 L99.4,118.0 L97.7,123.5 L98.7,125.1 L101.8,126.7 L103.6,131.4 L105.8,136.2 L107.0,137.4 L110.5,137.0 L115.7,138.9 L117.6,138.2 L118.8,138.9 M118.8,138.9 L115.0,162.6 M118.8,138.9 L119.6,134.2 L166.4,139.9 M169.6,102.1 L163.1,178.1 M127.6,174.2 L177.4,179.2 L176.8,188.8 M176.8,188.8 L175.0,217.7 M167.1,131.0 L216.9,133.2 M164.8,159.0 L203.2,161.1 L208.0,162.7 L213.6,163.7 L217.4,166.2 M176.8,188.8 L225.6,190.2 M217.4,166.2 L219.2,171.0 L220.6,175.8 L221.6,180.6 L222.2,184.5 L225.6,190.2 L228.2,194.5 L230.8,198.8 L231.0,219.1 M212.8,104.2 L213.2,108.9 L215.1,118.4 L215.3,126.9 L216.9,133.2 L217.6,139.4 L217.5,156.6 L217.1,161.4 L217.4,166.2 M217.5,156.6 L253.5,155.8 M246.2,125.3 L245.0,128.4 L245.1,132.2 L241.6,135.2 L242.4,139.0 L242.2,144.3 L245.7,146.0 L248.5,149.3 L252.8,152.4 L253.5,155.8 M253.5,155.8 L254.2,160.5 L258.0,165.1 L261.5,168.8 L261.5,172.2 L258.9,175.2 L255.8,176.8 L255.6,181.6 L253.4,183.7 M222.2,184.5 L253.4,183.7 M253.4,183.7 L253.1,187.5 L254.7,192.3 L258.6,195.9 L263.2,199.5 L262.7,203.4 L265.6,208.1 L269.2,211.7 L269.4,215.6 L272.1,217.3 M167.8,217.2 L167.4,222.0 L190.2,223.3 L189.4,242.0 M189.4,242.0 L195.5,245.7 L200.9,246.8 L207.2,249.3 L215.8,250.4 L220.5,249.5 L226.8,251.4 L232.4,252.3 L236.0,251.3 M232.5,251.4 L232.6,234.5 L231.0,223.9 L231.0,219.1 M167.4,222.0 L164.2,265.1 L135.2,262.4 L135.7,264.6 M236.0,251.3 L236.1,257.3 L236.3,267.1 L240.0,271.8 L240.5,276.6 L239.4,281.4 L239.5,285.2 L238.3,289.0 M236.1,257.3 L259.1,256.5 M268.7,227.2 L266.3,232.2 L265.5,237.0 L262.6,242.0 L260.6,247.0 L258.8,251.9 L259.1,256.5 L260.1,261.4 L258.4,266.3 L257.0,271.2 L256.2,276.0 M256.2,276.0 L271.6,275.1 L271.7,279.0 L273.6,282.7 M231.0,223.9 L265.0,222.6 L263.6,227.5 L268.7,227.2 M272.1,217.3 L269.8,221.3 L268.7,227.2 M265.5,237.0 L280.9,235.9 L301.0,234.0 L310.8,232.9 L320.2,231.7 M280.9,235.9 L281.8,236.8 L282.0,274.4 L282.9,280.1 M301.0,234.0 L306.6,254.2 L309.0,259.2 L309.1,266.9 L310.0,271.7 M310.0,271.7 L288.9,273.8 L290.5,277.5 L290.4,280.4 M310.0,271.7 L311.5,274.4 L333.2,272.5 L334.7,274.2 L336.3,270.6 L339.2,270.6 M320.2,231.7 L323.1,235.2 L328.5,240.2 L332.5,245.5 L335.4,248.9 L338.9,253.2 L342.0,257.1 M320.0,229.8 L320.2,231.7 L325.5,230.0 L335.6,227.4 L337.0,228.7 L338.2,230.9 L346.6,229.5 L357.1,236.9 M328.8,214.9 L328.7,217.8 L327.3,220.9 L322.9,222.5 L316.5,227.3 L310.8,232.9 M313.8,217.0 L328.8,214.9 L372.3,207.4 M269.8,221.3 L280.9,221.5 L280.8,220.0 L296.3,218.7 L313.8,217.0 M313.8,217.0 L317.8,214.0 L320.6,211.7 L323.2,208.9 L325.3,206.2 L321.8,204.2 L319.7,200.6 L319.5,198.7 M325.3,206.2 L329.1,207.5 L333.6,207.3 L336.3,205.4 L338.0,201.7 L340.5,196.4 L340.8,193.9 L344.4,190.8 L348.2,187.2 L349.1,184.1 L353.2,184.2 M272.1,217.3 L276.7,216.0 L279.8,212.4 L279.8,209.0 L282.4,207.8 L286.1,207.5 L290.3,205.1 L292.8,206.8 L296.4,202.7 L298.6,198.4 L302.9,197.2 L302.4,194.1 L308.0,196.3 L311.0,196.9 L316.3,197.2 L319.5,198.7 L322.0,195.4 L324.5,192.1 L326.4,187.9 L329.3,185.0 L330.6,181.4 L331.2,175.1 M280.3,170.6 L282.4,193.8 L283.1,199.0 L280.2,204.1 L279.8,209.0 M299.5,169.3 L302.4,194.1 M282.0,170.5 L299.4,168.7 L309.1,168.1 M258.0,165.1 L277.8,163.7 M257.4,125.9 L263.6,129.3 L269.0,130.8 L273.1,132.4 L275.4,135.6 L277.0,138.8 M329.1,162.4 L331.2,175.1 L332.6,183.8 L340.1,182.6 L341.0,187.5 M341.0,187.5 L345.2,182.8 L349.3,181.1 L352.2,182.5 L353.2,184.2 M353.2,184.2 L355.4,185.8 L359.0,187.0 L358.3,191.1 L360.6,193.1 L365.9,194.5 M340.1,182.6 L366.5,177.4 L369.1,189.4 L374.4,188.2 M366.5,177.4 L367.5,176.0 L368.9,176.1 M334.4,161.5 L334.4,161.3 L364.8,155.3 L367.0,156.8 L370.7,160.4 M370.7,160.4 L368.7,164.3 L368.8,168.2 L372.5,171.4 L371.8,173.5 L370.4,175.3 L368.4,178.2 M370.7,160.4 L377.0,162.4 L376.9,166.2 M371.8,124.2 L372.9,128.8 L375.3,137.1 L377.4,145.0 M377.4,145.0 L377.4,151.9 L379.3,159.9 L378.8,162.0 M383.9,121.1 L384.5,124.9 L382.2,129.5 L381.5,136.6 L382.3,144.0 M377.4,145.0 L382.3,144.0 L390.8,142.1 L393.6,139.6 M385.9,117.6 L388.9,126.7 L391.2,134.0 L393.9,137.8 M377.4,151.9 L389.1,149.3 L392.0,148.5 L395.0,152.9 M389.1,149.3 L390.7,155.5" fill="none" stroke="#FFFCF3" stroke-width="1.5" stroke-linejoin="round"/>
</g>
<g transform="translate(0.3,0.3)">
<g fill="#fff" opacity="0.55"><circle cx="47.6" cy="227.2" r="10.10"/><circle cx="279.5" cy="169.6" r="10.10"/><circle cx="311.0" cy="161.7" r="10.10"/><circle cx="377.0" cy="165.3" r="10.10"/><circle cx="370.4" cy="174.3" r="10.10"/><circle cx="225.7" cy="288.7" r="10.10"/><circle cx="52.2" cy="93.8" r="7.60"/><circle cx="25.7" cy="184.4" r="7.60"/><circle cx="53.0" cy="241.5" r="7.60"/><circle cx="94.1" cy="242.5" r="7.60"/><circle cx="155.3" cy="189.6" r="7.60"/><circle cx="276.6" cy="158.6" r="7.60"/><circle cx="263.3" cy="202.1" r="7.60"/><circle cx="231.0" cy="198.8" r="7.60"/><circle cx="266.5" cy="235.5" r="7.60"/><circle cx="321.7" cy="168.2" r="7.60"/><circle cx="335.2" cy="176.4" r="7.60"/><circle cx="291.9" cy="188.8" r="7.60"/><circle cx="314.5" cy="184.2" r="7.60"/><circle cx="393.3" cy="144.8" r="7.60"/><circle cx="361.4" cy="182.7" r="7.60"/><circle cx="359.1" cy="187.0" r="7.60"/><circle cx="269.5" cy="285.3" r="7.60"/><circle cx="338.0" cy="274.4" r="7.60"/><circle cx="214.2" cy="259.7" r="7.60"/><circle cx="199.8" cy="291.6" r="7.60"/><circle cx="44.5" cy="112.3" r="5.70"/><circle cx="26.9" cy="184.4" r="5.70"/><circle cx="28.4" cy="189.5" r="5.70"/><circle cx="34.5" cy="178.7" r="5.70"/><circle cx="100.8" cy="255.6" r="5.70"/><circle cx="221.0" cy="178.1" r="5.70"/><circle cx="239.0" cy="142.2" r="5.70"/><circle cx="210.5" cy="212.4" r="5.70"/><circle cx="220.6" cy="227.3" r="5.70"/><circle cx="208.8" cy="233.8" r="5.70"/><circle cx="308.5" cy="168.6" r="5.70"/><circle cx="323.5" cy="172.0" r="5.70"/><circle cx="338.9" cy="151.8" r="5.70"/><circle cx="347.1" cy="147.6" r="5.70"/><circle cx="304.6" cy="193.8" r="5.70"/><circle cx="296.4" cy="203.0" r="5.70"/><circle cx="375.7" cy="165.3" r="5.70"/><circle cx="368.6" cy="205.2" r="5.70"/><circle cx="290.8" cy="223.8" r="5.70"/><circle cx="293.1" cy="249.1" r="5.70"/><circle cx="311.8" cy="244.9" r="5.70"/><circle cx="334.7" cy="297.8" r="5.70"/><circle cx="357.1" cy="315.2" r="5.70"/><circle cx="136.0" cy="264.8" r="5.70"/><circle cx="209.9" cy="260.0" r="5.70"/><circle cx="50.6" cy="96.9" r="4.10"/><circle cx="83.0" cy="101.3" r="4.10"/><circle cx="121.7" cy="110.4" r="4.10"/><circle cx="137.6" cy="129.3" r="4.10"/><circle cx="82.7" cy="140.7" r="4.10"/><circle cx="34.3" cy="184.9" r="4.10"/><circle cx="42.2" cy="199.1" r="4.10"/><circle cx="48.7" cy="173.1" r="4.10"/><circle cx="107.4" cy="168.9" r="4.10"/><circle cx="107.2" cy="173.4" r="4.10"/><circle cx="44.7" cy="213.4" r="4.10"/><circle cx="75.4" cy="212.4" r="4.10"/><circle cx="47.4" cy="229.9" r="4.10"/><circle cx="48.6" cy="226.4" r="4.10"/><circle cx="54.0" cy="229.4" r="4.10"/><circle cx="95.0" cy="242.9" r="4.10"/><circle cx="155.7" cy="198.5" r="4.10"/><circle cx="156.7" cy="204.2" r="4.10"/><circle cx="215.5" cy="156.1" r="4.10"/><circle cx="217.8" cy="166.2" r="4.10"/><circle cx="215.5" cy="182.4" r="4.10"/><circle cx="246.2" cy="124.6" r="4.10"/><circle cx="237.4" cy="174.7" r="4.10"/><circle cx="251.1" cy="170.5" r="4.10"/><circle cx="259.0" cy="174.5" r="4.10"/><circle cx="266.5" cy="182.1" r="4.10"/><circle cx="266.7" cy="190.8" r="4.10"/><circle cx="266.3" cy="159.1" r="4.10"/><circle cx="277.8" cy="161.5" r="4.10"/><circle cx="269.0" cy="166.6" r="4.10"/><circle cx="280.7" cy="172.4" r="4.10"/><circle cx="289.4" cy="170.6" r="4.10"/><circle cx="228.9" cy="192.4" r="4.10"/><circle cx="230.6" cy="198.7" r="4.10"/><circle cx="222.8" cy="199.4" r="4.10"/><circle cx="240.9" cy="216.8" r="4.10"/><circle cx="283.3" cy="207.0" r="4.10"/><circle cx="232.9" cy="234.5" r="4.10"/><circle cx="249.4" cy="240.3" r="4.10"/><circle cx="251.8" cy="245.2" r="4.10"/><circle cx="292.2" cy="157.9" r="4.10"/><circle cx="300.1" cy="159.2" r="4.10"/><circle cx="297.9" cy="175.4" r="4.10"/><circle cx="305.8" cy="155.8" r="4.10"/><circle cx="306.3" cy="162.8" r="4.10"/><circle cx="329.6" cy="170.9" r="4.10"/><circle cx="331.9" cy="160.4" r="4.10"/><circle cx="357.3" cy="146.6" r="4.10"/><circle cx="363.4" cy="144.8" r="4.10"/><circle cx="374.4" cy="146.7" r="4.10"/><circle cx="395.4" cy="131.3" r="4.10"/><circle cx="306.2" cy="187.2" r="4.10"/><circle cx="304.9" cy="194.3" r="4.10"/><circle cx="305.9" cy="204.0" r="4.10"/><circle cx="320.5" cy="198.4" r="4.10"/><circle cx="326.7" cy="198.1" r="4.10"/><circle cx="340.8" cy="206.4" r="4.10"/><circle cx="392.9" cy="144.8" r="4.10"/><circle cx="390.9" cy="142.8" r="4.10"/><circle cx="388.5" cy="147.1" r="4.10"/><circle cx="392.3" cy="150.4" r="4.10"/><circle cx="383.5" cy="149.9" r="4.10"/><circle cx="383.7" cy="153.2" r="4.10"/><circle cx="383.1" cy="157.8" r="4.10"/><circle cx="381.4" cy="159.4" r="4.10"/><circle cx="363.9" cy="161.3" r="4.10"/><circle cx="366.9" cy="168.6" r="4.10"/><circle cx="364.2" cy="171.8" r="4.10"/><circle cx="372.7" cy="171.1" r="4.10"/><circle cx="377.2" cy="163.0" r="4.10"/><circle cx="376.4" cy="165.2" r="4.10"/><circle cx="359.2" cy="188.0" r="4.10"/><circle cx="358.8" cy="200.4" r="4.10"/><circle cx="369.4" cy="203.8" r="4.10"/><circle cx="340.4" cy="217.9" r="4.10"/><circle cx="343.8" cy="217.6" r="4.10"/><circle cx="353.0" cy="218.8" r="4.10"/><circle cx="352.4" cy="226.1" r="4.10"/><circle cx="337.2" cy="226.9" r="4.10"/><circle cx="325.8" cy="232.3" r="4.10"/><circle cx="337.6" cy="238.8" r="4.10"/><circle cx="331.1" cy="245.0" r="4.10"/><circle cx="348.1" cy="249.0" r="4.10"/><circle cx="318.8" cy="252.8" r="4.10"/><circle cx="340.0" cy="257.1" r="4.10"/><circle cx="312.8" cy="223.3" r="4.10"/><circle cx="303.2" cy="233.3" r="4.10"/><circle cx="293.6" cy="237.4" r="4.10"/><circle cx="308.5" cy="257.7" r="4.10"/><circle cx="298.2" cy="259.7" r="4.10"/><circle cx="267.2" cy="262.9" r="4.10"/><circle cx="260.0" cy="281.1" r="4.10"/><circle cx="285.6" cy="277.1" r="4.10"/><circle cx="292.5" cy="279.1" r="4.10"/><circle cx="316.5" cy="276.3" r="4.10"/><circle cx="342.9" cy="290.9" r="4.10"/><circle cx="333.4" cy="299.7" r="4.10"/><circle cx="175.5" cy="234.9" r="4.10"/><circle cx="201.0" cy="248.6" r="4.10"/><circle cx="190.7" cy="262.3" r="4.10"/><circle cx="138.2" cy="233.0" r="4.10"/><circle cx="211.2" cy="271.5" r="4.10"/><circle cx="206.2" cy="283.7" r="4.10"/><circle cx="230.9" cy="293.3" r="4.10"/><circle cx="238.5" cy="262.0" r="4.10"/><circle cx="235.9" cy="285.5" r="4.10"/><circle cx="208.6" cy="307.2" r="4.10"/><circle cx="190.7" cy="309.6" r="4.10"/><circle cx="367.6" cy="177.4" r="3.10"/><circle cx="296.8" cy="203.0" r="2.90"/><circle cx="115.5" cy="118.1" r="2.35"/><circle cx="111.4" cy="123.1" r="2.35"/><circle cx="106.7" cy="152.8" r="2.35"/><circle cx="149.0" cy="158.7" r="2.35"/><circle cx="157.8" cy="176.3" r="2.35"/><circle cx="253.8" cy="190.0" r="2.35"/><circle cx="225.4" cy="231.2" r="2.35"/><circle cx="373.9" cy="128.8" r="2.35"/><circle cx="402.1" cy="118.0" r="2.35"/><circle cx="345.4" cy="182.3" r="2.35"/><circle cx="365.3" cy="223.1" r="2.35"/><circle cx="361.1" cy="232.5" r="2.35"/><circle cx="261.6" cy="262.8" r="2.35"/><circle cx="279.0" cy="261.6" r="2.35"/><circle cx="257.8" cy="270.6" r="2.35"/><circle cx="277.3" cy="280.8" r="2.35"/><circle cx="345.2" cy="328.8" r="2.35"/><circle cx="153.2" cy="250.8" r="2.35"/><circle cx="144.3" cy="227.7" r="2.35"/></g>
<circle cx="47.6" cy="227.2" r="9.0" fill="#DD4F26" stroke="#B23A18" stroke-width="0.9"/>
<circle cx="279.5" cy="169.6" r="9.0" fill="#DD4F26" stroke="#B23A18" stroke-width="0.9"/>
<circle cx="311.0" cy="161.7" r="9.0" fill="#DD4F26" stroke="#B23A18" stroke-width="0.9"/>
<circle cx="377.0" cy="165.3" r="9.0" fill="#DD4F26" stroke="#B23A18" stroke-width="0.9"/>
<circle cx="370.4" cy="174.3" r="9.0" fill="#DD4F26" stroke="#B23A18" stroke-width="0.9"/>
<circle cx="225.7" cy="288.7" r="9.0" fill="#FCF4EA" stroke="#9E9282" stroke-width="0.9"/>
<circle cx="52.2" cy="93.8" r="6.5" fill="#F49322" stroke="#C9761A" stroke-width="0.9"/>
<circle cx="25.7" cy="184.4" r="6.5" fill="#DD4F26" stroke="#B23A18" stroke-width="0.9"/>
<circle cx="53.0" cy="241.5" r="6.5" fill="#F49322" stroke="#C9761A" stroke-width="0.9"/>
<circle cx="94.1" cy="242.5" r="6.5" fill="#E7E5F3" stroke="#9C99B6" stroke-width="0.9"/>
<circle cx="155.3" cy="189.6" r="6.5" fill="#F49322" stroke="#C9761A" stroke-width="0.9"/>
<circle cx="276.6" cy="158.6" r="6.5" fill="#DD4F26" stroke="#B23A18" stroke-width="0.9"/>
<circle cx="263.3" cy="202.1" r="6.5" fill="#DD4F26" stroke="#B23A18" stroke-width="0.9"/>
<circle cx="231.0" cy="198.8" r="6.5" fill="#DD4F26" stroke="#B23A18" stroke-width="0.9"/>
<circle cx="266.5" cy="235.5" r="6.5" fill="#C6C4E2" stroke="#8583AA" stroke-width="0.9"/>
<circle cx="321.7" cy="168.2" r="6.5" fill="#DD4F26" stroke="#B23A18" stroke-width="0.9"/>
<circle cx="335.2" cy="176.4" r="6.5" fill="#DD4F26" stroke="#B23A18" stroke-width="0.9"/>
<circle cx="291.9" cy="188.8" r="6.5" fill="#F8D48E" stroke="#C4A262" stroke-width="0.9"/>
<circle cx="314.5" cy="184.2" r="6.5" fill="#F49322" stroke="#C9761A" stroke-width="0.9"/>
<circle cx="393.3" cy="144.8" r="6.5" fill="#DD4F26" stroke="#B23A18" stroke-width="0.9"/>
<circle cx="361.4" cy="182.7" r="6.5" fill="#DD4F26" stroke="#B23A18" stroke-width="0.9"/>
<circle cx="359.1" cy="187.0" r="6.5" fill="#DD4F26" stroke="#B23A18" stroke-width="0.9"/>
<circle cx="269.5" cy="285.3" r="6.5" fill="#DD4F26" stroke="#B23A18" stroke-width="0.9"/>
<circle cx="338.0" cy="274.4" r="6.5" fill="#4D2F78" stroke="#33205A" stroke-width="0.9"/>
<circle cx="214.2" cy="259.7" r="6.5" fill="#F49322" stroke="#C9761A" stroke-width="0.9"/>
<circle cx="199.8" cy="291.6" r="6.5" fill="#FCF4EA" stroke="#9E9282" stroke-width="0.9"/>
<circle cx="44.5" cy="112.3" r="4.6" fill="#F49322" stroke="#C9761A" stroke-width="0.9"/>
<circle cx="26.9" cy="184.4" r="4.6" fill="#DD4F26" stroke="#B23A18" stroke-width="0.9"/>
<circle cx="28.4" cy="189.5" r="4.6" fill="#FCF4EA" stroke="#9E9282" stroke-width="0.9"/>
<circle cx="34.5" cy="178.7" r="4.6" fill="#F49322" stroke="#C9761A" stroke-width="0.9"/>
<circle cx="100.8" cy="255.6" r="4.6" fill="#E7E5F3" stroke="#9C99B6" stroke-width="0.9"/>
<circle cx="221.0" cy="178.1" r="4.6" fill="#F8D48E" stroke="#C4A262" stroke-width="0.9"/>
<circle cx="239.0" cy="142.2" r="4.6" fill="#FCF4EA" stroke="#9E9282" stroke-width="0.9"/>
<circle cx="210.5" cy="212.4" r="4.6" fill="#F8D48E" stroke="#C4A262" stroke-width="0.9"/>
<circle cx="220.6" cy="227.3" r="4.6" fill="#E7E5F3" stroke="#9C99B6" stroke-width="0.9"/>
<circle cx="208.8" cy="233.8" r="4.6" fill="#F8D48E" stroke="#C4A262" stroke-width="0.9"/>
<circle cx="308.5" cy="168.6" r="4.6" fill="#F49322" stroke="#C9761A" stroke-width="0.9"/>
<circle cx="323.5" cy="172.0" r="4.6" fill="#F49322" stroke="#C9761A" stroke-width="0.9"/>
<circle cx="338.9" cy="151.8" r="4.6" fill="#EE8A2A" stroke="#B8401A" stroke-width="0.9"/>
<circle cx="347.1" cy="147.6" r="4.6" fill="#DD4F26" stroke="#B23A18" stroke-width="0.9"/>
<circle cx="304.6" cy="193.8" r="4.6" fill="#DD4F26" stroke="#B23A18" stroke-width="0.9"/>
<circle cx="296.4" cy="203.0" r="4.6" fill="#F49322" stroke="#C9761A" stroke-width="0.9"/>
<circle cx="375.7" cy="165.3" r="4.6" fill="#DD4F26" stroke="#B23A18" stroke-width="0.9"/>
<circle cx="368.6" cy="205.2" r="4.6" fill="#4D2F78" stroke="#33205A" stroke-width="0.9"/>
<circle cx="290.8" cy="223.8" r="4.6" fill="#7870AE" stroke="#4E4786" stroke-width="0.9"/>
<circle cx="293.1" cy="249.1" r="4.6" fill="#FCF4EA" stroke="#9E9282" stroke-width="0.9"/>
<circle cx="311.8" cy="244.9" r="4.6" fill="#DD4F26" stroke="#B23A18" stroke-width="0.9"/>
<circle cx="334.7" cy="297.8" r="4.6" fill="#E7E5F3" stroke="#9C99B6" stroke-width="0.9"/>
<circle cx="357.1" cy="315.2" r="4.6" fill="#FCF4EA" stroke="#9E9282" stroke-width="0.9"/>
<circle cx="136.0" cy="264.8" r="4.6" fill="#FCF4EA" stroke="#9E9282" stroke-width="0.9"/>
<circle cx="209.9" cy="260.0" r="4.6" fill="#F49322" stroke="#C9761A" stroke-width="0.9"/>
<circle cx="50.6" cy="96.9" r="3.0" fill="#F49322" stroke="#C9761A" stroke-width="0.9"/>
<circle cx="83.0" cy="101.3" r="3.0" fill="#FCF4EA" stroke="#9E9282" stroke-width="0.9"/>
<circle cx="121.7" cy="110.4" r="3.0" fill="#FCF4EA" stroke="#9E9282" stroke-width="0.9"/>
<circle cx="137.6" cy="129.3" r="3.0" fill="#C6C4E2" stroke="#8583AA" stroke-width="0.9"/>
<circle cx="82.7" cy="140.7" r="3.0" fill="#E7E5F3" stroke="#9C99B6" stroke-width="0.9"/>
<circle cx="34.3" cy="184.9" r="3.0" fill="#F49322" stroke="#C9761A" stroke-width="0.9"/>
<circle cx="42.2" cy="199.1" r="3.0" fill="#F49322" stroke="#C9761A" stroke-width="0.9"/>
<circle cx="48.7" cy="173.1" r="3.0" fill="#FCF4EA" stroke="#9E9282" stroke-width="0.9"/>
<circle cx="107.4" cy="168.9" r="3.0" fill="#FCF4EA" stroke="#9E9282" stroke-width="0.9"/>
<circle cx="107.2" cy="173.4" r="3.0" fill="#FCF4EA" stroke="#9E9282" stroke-width="0.9"/>
<circle cx="44.7" cy="213.4" r="3.0" fill="#F49322" stroke="#C9761A" stroke-width="0.9"/>
<circle cx="75.4" cy="212.4" r="3.0" fill="#F49322" stroke="#C9761A" stroke-width="0.9"/>
<circle cx="47.4" cy="229.9" r="3.0" fill="#F8D48E" stroke="#C4A262" stroke-width="0.9"/>
<circle cx="48.6" cy="226.4" r="3.0" fill="#FCF4EA" stroke="#9E9282" stroke-width="0.9"/>
<circle cx="54.0" cy="229.4" r="3.0" fill="#FCF4EA" stroke="#9E9282" stroke-width="0.9"/>
<circle cx="95.0" cy="242.9" r="3.0" fill="#C6C4E2" stroke="#8583AA" stroke-width="0.9"/>
<circle cx="155.7" cy="198.5" r="3.0" fill="#FCF4EA" stroke="#9E9282" stroke-width="0.9"/>
<circle cx="156.7" cy="204.2" r="3.0" fill="#E7E5F3" stroke="#9C99B6" stroke-width="0.9"/>
<circle cx="215.5" cy="156.1" r="3.0" fill="#C6C4E2" stroke="#8583AA" stroke-width="0.9"/>
<circle cx="217.8" cy="166.2" r="3.0" fill="#FCF4EA" stroke="#9E9282" stroke-width="0.9"/>
<circle cx="215.5" cy="182.4" r="3.0" fill="#FCF4EA" stroke="#9E9282" stroke-width="0.9"/>
<circle cx="246.2" cy="124.6" r="3.0" fill="#FCF4EA" stroke="#9E9282" stroke-width="0.9"/>
<circle cx="237.4" cy="174.7" r="3.0" fill="#FCF4EA" stroke="#9E9282" stroke-width="0.9"/>
<circle cx="251.1" cy="170.5" r="3.0" fill="#FCF4EA" stroke="#9E9282" stroke-width="0.9"/>
<circle cx="259.0" cy="174.5" r="3.0" fill="#F8D48E" stroke="#C4A262" stroke-width="0.9"/>
<circle cx="266.5" cy="182.1" r="3.0" fill="#F49322" stroke="#C9761A" stroke-width="0.9"/>
<circle cx="266.7" cy="190.8" r="3.0" fill="#F8D48E" stroke="#C4A262" stroke-width="0.9"/>
<circle cx="266.3" cy="159.1" r="3.0" fill="#FCF4EA" stroke="#9E9282" stroke-width="0.9"/>
<circle cx="277.8" cy="161.5" r="3.0" fill="#F49322" stroke="#C9761A" stroke-width="0.9"/>
<circle cx="269.0" cy="166.6" r="3.0" fill="#F49322" stroke="#C9761A" stroke-width="0.9"/>
<circle cx="280.7" cy="172.4" r="3.0" fill="#F8D48E" stroke="#C4A262" stroke-width="0.9"/>
<circle cx="289.4" cy="170.6" r="3.0" fill="#DD4F26" stroke="#B23A18" stroke-width="0.9"/>
<circle cx="228.9" cy="192.4" r="3.0" fill="#FCF4EA" stroke="#9E9282" stroke-width="0.9"/>
<circle cx="230.6" cy="198.7" r="3.0" fill="#C6C4E2" stroke="#8583AA" stroke-width="0.9"/>
<circle cx="222.8" cy="199.4" r="3.0" fill="#E7E5F3" stroke="#9C99B6" stroke-width="0.9"/>
<circle cx="240.9" cy="216.8" r="3.0" fill="#C6C4E2" stroke="#8583AA" stroke-width="0.9"/>
<circle cx="283.3" cy="207.0" r="3.0" fill="#FCF4EA" stroke="#9E9282" stroke-width="0.9"/>
<circle cx="232.9" cy="234.5" r="3.0" fill="#C6C4E2" stroke="#8583AA" stroke-width="0.9"/>
<circle cx="249.4" cy="240.3" r="3.0" fill="#4D2F78" stroke="#33205A" stroke-width="0.9"/>
<circle cx="251.8" cy="245.2" r="3.0" fill="#F49322" stroke="#C9761A" stroke-width="0.9"/>
<circle cx="292.2" cy="157.9" r="3.0" fill="#F49322" stroke="#C9761A" stroke-width="0.9"/>
<circle cx="300.1" cy="159.2" r="3.0" fill="#F49322" stroke="#C9761A" stroke-width="0.9"/>
<circle cx="297.9" cy="175.4" r="3.0" fill="#F49322" stroke="#C9761A" stroke-width="0.9"/>
<circle cx="305.8" cy="155.8" r="3.0" fill="#DD4F26" stroke="#B23A18" stroke-width="0.9"/>
<circle cx="306.3" cy="162.8" r="3.0" fill="#F8D48E" stroke="#C4A262" stroke-width="0.9"/>
<circle cx="329.6" cy="170.9" r="3.0" fill="#DD4F26" stroke="#B23A18" stroke-width="0.9"/>
<circle cx="331.9" cy="160.4" r="3.0" fill="#F49322" stroke="#C9761A" stroke-width="0.9"/>
<circle cx="357.3" cy="146.6" r="3.0" fill="#F49322" stroke="#C9761A" stroke-width="0.9"/>
<circle cx="363.4" cy="144.8" r="3.0" fill="#F49322" stroke="#C9761A" stroke-width="0.9"/>
<circle cx="374.4" cy="146.7" r="3.0" fill="#F49322" stroke="#C9761A" stroke-width="0.9"/>
<circle cx="395.4" cy="131.3" r="3.0" fill="#FCF4EA" stroke="#9E9282" stroke-width="0.9"/>
<circle cx="306.2" cy="187.2" r="3.0" fill="#DD4F26" stroke="#B23A18" stroke-width="0.9"/>
<circle cx="304.9" cy="194.3" r="3.0" fill="#FCF4EA" stroke="#9E9282" stroke-width="0.9"/>
<circle cx="305.9" cy="204.0" r="3.0" fill="#7870AE" stroke="#4E4786" stroke-width="0.9"/>
<circle cx="320.5" cy="198.4" r="3.0" fill="#FCF4EA" stroke="#9E9282" stroke-width="0.9"/>
<circle cx="326.7" cy="198.1" r="3.0" fill="#FCF4EA" stroke="#9E9282" stroke-width="0.9"/>
<circle cx="340.8" cy="206.4" r="3.0" fill="#FCF4EA" stroke="#9E9282" stroke-width="0.9"/>
<circle cx="392.9" cy="144.8" r="3.0" fill="#FCF4EA" stroke="#9E9282" stroke-width="0.9"/>
<circle cx="390.9" cy="142.8" r="3.0" fill="#E7E5F3" stroke="#9C99B6" stroke-width="0.9"/>
<circle cx="388.5" cy="147.1" r="3.0" fill="#E7E5F3" stroke="#9C99B6" stroke-width="0.9"/>
<circle cx="392.3" cy="150.4" r="3.0" fill="#E7E5F3" stroke="#9C99B6" stroke-width="0.9"/>
<circle cx="383.5" cy="149.9" r="3.0" fill="#DD4F26" stroke="#B23A18" stroke-width="0.9"/>
<circle cx="383.7" cy="153.2" r="3.0" fill="#F49322" stroke="#C9761A" stroke-width="0.9"/>
<circle cx="383.1" cy="157.8" r="3.0" fill="#F49322" stroke="#C9761A" stroke-width="0.9"/>
<circle cx="381.4" cy="159.4" r="3.0" fill="#F49322" stroke="#C9761A" stroke-width="0.9"/>
<circle cx="363.9" cy="161.3" r="3.0" fill="#FCF4EA" stroke="#9E9282" stroke-width="0.9"/>
<circle cx="366.9" cy="168.6" r="3.0" fill="#FCF4EA" stroke="#9E9282" stroke-width="0.9"/>
<circle cx="364.2" cy="171.8" r="3.0" fill="#FCF4EA" stroke="#9E9282" stroke-width="0.9"/>
<circle cx="372.7" cy="171.1" r="3.0" fill="#DD4F26" stroke="#B23A18" stroke-width="0.9"/>
<circle cx="377.2" cy="163.0" r="3.0" fill="#F8D48E" stroke="#C4A262" stroke-width="0.9"/>
<circle cx="376.4" cy="165.2" r="3.0" fill="#DD4F26" stroke="#B23A18" stroke-width="0.9"/>
<circle cx="359.2" cy="188.0" r="3.0" fill="#FCF4EA" stroke="#9E9282" stroke-width="0.9"/>
<circle cx="358.8" cy="200.4" r="3.0" fill="#DD4F26" stroke="#B23A18" stroke-width="0.9"/>
<circle cx="369.4" cy="203.8" r="3.0" fill="#E7E5F3" stroke="#9C99B6" stroke-width="0.9"/>
<circle cx="340.4" cy="217.9" r="3.0" fill="#4D2F78" stroke="#33205A" stroke-width="0.9"/>
<circle cx="343.8" cy="217.6" r="3.0" fill="#FCF4EA" stroke="#9E9282" stroke-width="0.9"/>
<circle cx="353.0" cy="218.8" r="3.0" fill="#4D2F78" stroke="#33205A" stroke-width="0.9"/>
<circle cx="352.4" cy="226.1" r="3.0" fill="#E7E5F3" stroke="#9C99B6" stroke-width="0.9"/>
<circle cx="337.2" cy="226.9" r="3.0" fill="#E7E5F3" stroke="#9C99B6" stroke-width="0.9"/>
<circle cx="325.8" cy="232.3" r="3.0" fill="#7870AE" stroke="#4E4786" stroke-width="0.9"/>
<circle cx="337.6" cy="238.8" r="3.0" fill="#7870AE" stroke="#4E4786" stroke-width="0.9"/>
<circle cx="331.1" cy="245.0" r="3.0" fill="#F8D48E" stroke="#C4A262" stroke-width="0.9"/>
<circle cx="348.1" cy="249.0" r="3.0" fill="#FCF4EA" stroke="#9E9282" stroke-width="0.9"/>
<circle cx="318.8" cy="252.8" r="3.0" fill="#7870AE" stroke="#4E4786" stroke-width="0.9"/>
<circle cx="340.0" cy="257.1" r="3.0" fill="#E7E5F3" stroke="#9C99B6" stroke-width="0.9"/>
<circle cx="312.8" cy="223.3" r="3.0" fill="#FCF4EA" stroke="#9E9282" stroke-width="0.9"/>
<circle cx="303.2" cy="233.3" r="3.0" fill="#F49322" stroke="#C9761A" stroke-width="0.9"/>
<circle cx="293.6" cy="237.4" r="3.0" fill="#4D2F78" stroke="#33205A" stroke-width="0.9"/>
<circle cx="308.5" cy="257.7" r="3.0" fill="#7870AE" stroke="#4E4786" stroke-width="0.9"/>
<circle cx="298.2" cy="259.7" r="3.0" fill="#4D2F78" stroke="#33205A" stroke-width="0.9"/>
<circle cx="267.2" cy="262.9" r="3.0" fill="#FCF4EA" stroke="#9E9282" stroke-width="0.9"/>
<circle cx="260.0" cy="281.1" r="3.0" fill="#7870AE" stroke="#4E4786" stroke-width="0.9"/>
<circle cx="285.6" cy="277.1" r="3.0" fill="#E7E5F3" stroke="#9C99B6" stroke-width="0.9"/>
<circle cx="292.5" cy="279.1" r="3.0" fill="#FCF4EA" stroke="#9E9282" stroke-width="0.9"/>
<circle cx="316.5" cy="276.3" r="3.0" fill="#4D2F78" stroke="#33205A" stroke-width="0.9"/>
<circle cx="342.9" cy="290.9" r="3.0" fill="#FCF4EA" stroke="#9E9282" stroke-width="0.9"/>
<circle cx="333.4" cy="299.7" r="3.0" fill="#E7E5F3" stroke="#9C99B6" stroke-width="0.9"/>
<circle cx="175.5" cy="234.9" r="3.0" fill="#E7E5F3" stroke="#9C99B6" stroke-width="0.9"/>
<circle cx="201.0" cy="248.6" r="3.0" fill="#FCF4EA" stroke="#9E9282" stroke-width="0.9"/>
<circle cx="190.7" cy="262.3" r="3.0" fill="#FCF4EA" stroke="#9E9282" stroke-width="0.9"/>
<circle cx="138.2" cy="233.0" r="3.0" fill="#FCF4EA" stroke="#9E9282" stroke-width="0.9"/>
<circle cx="211.2" cy="271.5" r="3.0" fill="#FCF4EA" stroke="#9E9282" stroke-width="0.9"/>
<circle cx="206.2" cy="283.7" r="3.0" fill="#7870AE" stroke="#4E4786" stroke-width="0.9"/>
<circle cx="230.9" cy="293.3" r="3.0" fill="#F8D48E" stroke="#C4A262" stroke-width="0.9"/>
<circle cx="238.5" cy="262.0" r="3.0" fill="#C6C4E2" stroke="#8583AA" stroke-width="0.9"/>
<circle cx="235.9" cy="285.5" r="3.0" fill="#E7E5F3" stroke="#9C99B6" stroke-width="0.9"/>
<circle cx="208.6" cy="307.2" r="3.0" fill="#C6C4E2" stroke="#8583AA" stroke-width="0.9"/>
<circle cx="190.7" cy="309.6" r="3.0" fill="#FCF4EA" stroke="#9E9282" stroke-width="0.9"/>
<circle cx="367.6" cy="177.4" r="2.0" fill="#C6C4E2" stroke="#8583AA" stroke-width="0.9"/>
<circle cx="296.8" cy="203.0" r="1.8" fill="#FCF4EA" stroke="#9E9282" stroke-width="0.9"/>
<circle cx="115.5" cy="118.1" r="1.25" fill="#B2B0B8" stroke="#7A7880" stroke-width="0.9"/>
<circle cx="111.4" cy="123.1" r="1.25" fill="#B2B0B8" stroke="#7A7880" stroke-width="0.9"/>
<circle cx="106.7" cy="152.8" r="1.25" fill="#B2B0B8" stroke="#7A7880" stroke-width="0.9"/>
<circle cx="149.0" cy="158.7" r="1.25" fill="#B2B0B8" stroke="#7A7880" stroke-width="0.9"/>
<circle cx="157.8" cy="176.3" r="1.25" fill="#D8C090" stroke="#8A8060" stroke-width="0.9"/>
<circle cx="253.8" cy="190.0" r="1.25" fill="#B2B0B8" stroke="#7A7880" stroke-width="0.9"/>
<circle cx="225.4" cy="231.2" r="1.25" fill="#B2B0B8" stroke="#7A7880" stroke-width="0.9"/>
<circle cx="373.9" cy="128.8" r="1.25" fill="#B2B0B8" stroke="#7A7880" stroke-width="0.9"/>
<circle cx="402.1" cy="118.0" r="1.25" fill="#B2B0B8" stroke="#7A7880" stroke-width="0.9"/>
<circle cx="345.4" cy="182.3" r="1.25" fill="#B2B0B8" stroke="#7A7880" stroke-width="0.9"/>
<circle cx="365.3" cy="223.1" r="1.25" fill="#3C2A58" stroke="#2A1C40" stroke-width="0.9"/>
<circle cx="361.1" cy="232.5" r="1.25" fill="#3C2A58" stroke="#2A1C40" stroke-width="0.9"/>
<circle cx="261.6" cy="262.8" r="1.25" fill="#B2B0B8" stroke="#7A7880" stroke-width="0.9"/>
<circle cx="279.0" cy="261.6" r="1.25" fill="#B2B0B8" stroke="#7A7880" stroke-width="0.9"/>
<circle cx="257.8" cy="270.6" r="1.25" fill="#B2B0B8" stroke="#7A7880" stroke-width="0.9"/>
<circle cx="277.3" cy="280.8" r="1.25" fill="#B2B0B8" stroke="#7A7880" stroke-width="0.9"/>
<circle cx="345.2" cy="328.8" r="1.25" fill="#6E6898" stroke="#4A4470" stroke-width="0.9"/>
<circle cx="153.2" cy="250.8" r="1.25" fill="#B2B0B8" stroke="#7A7880" stroke-width="0.9"/>
<circle cx="144.3" cy="227.7" r="1.25" fill="#B2B0B8" stroke="#7A7880" stroke-width="0.9"/>
</g>
</g>
<g font-size="10" class="t">
<text x="43" y="380.80" xml:space="preserve" textLength="394.1" lengthAdjust="spacingAndGlyphs">The change in share of Blacks in cities is based on the percentage point difference in the</text>
<text x="43" y="396.88" xml:space="preserve" textLength="393.2" lengthAdjust="spacingAndGlyphs">percent of population that was Black in the later time period compared to the earlier.  For</text>
<text x="43" y="412.96" xml:space="preserve" textLength="395.2" lengthAdjust="spacingAndGlyphs">example, 18.3 percent of the population in Gary, IN was Black in 1940 but was just 2.3 in</text>
<text x="43" y="429.04" xml:space="preserve" textLength="403.7" lengthAdjust="spacingAndGlyphs">1910, which represented a 16.0 percentage-point change in the share of Blacks in the city.</text>
<text x="43" y="445.12" xml:space="preserve" textLength="373.7" lengthAdjust="spacingAndGlyphs">It was the largest change in share during the First Great Migration. By the end of the</text>
<text x="43" y="461.20" xml:space="preserve" textLength="399.4" lengthAdjust="spacingAndGlyphs">Second Great Migration, Newark, NJ had realized the largest increase in Black population</text>
<text x="43" y="477.28" xml:space="preserve" textLength="366.9" lengthAdjust="spacingAndGlyphs">share, with the Black proportion of the city rising from 10.6 in 1940 to 54.2 in 1970.</text>
</g>
<g font-size="9" class="t">
<text x="591" y="379" font-style="italic" text-anchor="end">Increasing</text>
<text x="591" y="477.3" font-style="italic" text-anchor="end">Decreasing</text>
<circle cx="614.1" cy="375.70" r="3.4" fill="#DD4F26" stroke="#B23A18" stroke-width="0.8"/>
<text x="621" y="379.00">10.0 or more</text>
<circle cx="614.1" cy="389.77" r="3.4" fill="#F49322" stroke="#C9761A" stroke-width="0.8"/>
<text x="621" y="393.07">5.0 to 9.9</text>
<circle cx="614.1" cy="403.84" r="3.4" fill="#F8D48E" stroke="#C4A262" stroke-width="0.8"/>
<text x="621" y="407.14">2.5 to 4.9</text>
<circle cx="614.1" cy="417.91" r="3.4" fill="#FCF4EA" stroke="#9E9282" stroke-width="0.8"/>
<text x="621" y="421.21">0.0 to 2.4</text>
<circle cx="614.1" cy="431.98" r="3.4" fill="#E7E5F3" stroke="#9C99B6" stroke-width="0.8"/>
<text x="621" y="435.28">-2.4 to -0.1</text>
<circle cx="614.1" cy="446.05" r="3.4" fill="#C6C4E2" stroke="#8583AA" stroke-width="0.8"/>
<text x="621" y="449.35">-5.0 to -2.5</text>
<circle cx="614.1" cy="460.12" r="3.4" fill="#7870AE" stroke="#4E4786" stroke-width="0.8"/>
<text x="621" y="463.42">-10.0 to -5.1</text>
<circle cx="614.1" cy="474.19" r="3.4" fill="#4D2F78" stroke="#33205A" stroke-width="0.8"/>
<text x="621" y="477.49">Less than -10.0</text>
<circle cx="738.3" cy="406.5" r="9.0" fill="#DEDEE0" stroke="#A2A2A4" stroke-width="0.8"/><text x="760.5" y="409.80">1,000,000 or more</text>
<circle cx="738.3" cy="429.0" r="6.5" fill="#DEDEE0" stroke="#A2A2A4" stroke-width="0.8"/><text x="760.5" y="432.30">500,000 to 999,999</text>
<circle cx="738.3" cy="446.2" r="4.6" fill="#DEDEE0" stroke="#A2A2A4" stroke-width="0.8"/><text x="760.5" y="449.50">150,000 to 499,999</text>
<circle cx="738.3" cy="462.9" r="3.3" fill="#DEDEE0" stroke="#A2A2A4" stroke-width="0.8"/><text x="760.5" y="466.20">50,000 to 149,999</text>
<circle cx="738.3" cy="479.5" r="1.2" fill="#DEDEE0" stroke="#A2A2A4" stroke-width="0.8"/><text x="760.5" y="482.80">Less than 50,000</text>
</g>
<g font-size="12" text-anchor="end" class="t">
<text x="592" y="421">Change in</text>
<text x="592" y="435">share of Blacks</text>
</g>
<line x1="601.5" y1="425.5" x2="691.5" y2="425.5" stroke="#999" stroke-width="0.8"/>
<text x="726.6" y="376.7" font-size="11.2" class="t" textLength="78.6" lengthAdjust="spacingAndGlyphs">City population</text>
<text x="726.5" y="388.5" font-size="8.6" font-style="italic" class="t" textLength="64.5" lengthAdjust="spacingAndGlyphs">(in later decade)</text>
</svg>
</body></html>
